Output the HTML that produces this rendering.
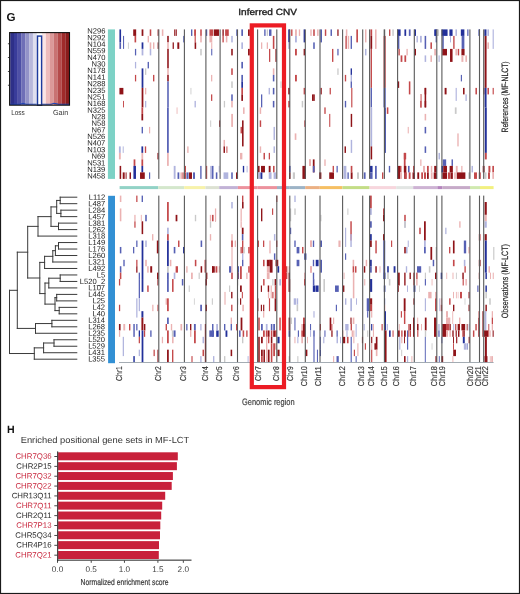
<!DOCTYPE html>
<html><head><meta charset="utf-8"><style>
html,body{margin:0;padding:0;background:#fff;}
body{width:520px;height:594px;overflow:hidden;position:relative;}
svg{position:absolute;left:0;top:0;will-change:transform;}
text{font-family:"Liberation Sans",sans-serif;text-rendering:geometricPrecision;}
</style></head><body>
<svg width="520" height="594" viewBox="0 0 520 594">
<rect x="0" y="0" width="520" height="594" fill="#fff"/>
<g><rect x="119.43" y="29.4" width="1.65" height="13" fill="#22309a"/><rect x="119.43" y="42.4" width="1.65" height="6.5" fill="#5660b4"/><rect x="123.03" y="35.9" width="1.05" height="13" fill="#5660b4"/><rect x="127.93" y="42.4" width="0.85" height="6.5" fill="#c9c9c9"/><rect x="133.22" y="29.4" width="2.95" height="6.5" fill="#8f1318"/><rect x="134.53" y="35.9" width="1.65" height="6.5" fill="#c4484a"/><rect x="134.93" y="48.9" width="1.25" height="6.5" fill="#5660b4"/><rect x="134.93" y="61.9" width="1.25" height="6.5" fill="#b0b4de"/><rect x="134.93" y="74.9" width="1.25" height="6.5" fill="#c4484a"/><rect x="141.62" y="29.4" width="1.75" height="6.5" fill="#8f1318"/><rect x="141.62" y="42.4" width="1.75" height="6.5" fill="#22309a"/><rect x="141.62" y="48.9" width="1.75" height="6.5" fill="#b0b4de"/><rect x="141.62" y="68.4" width="1.75" height="19.5" fill="#22309a"/><rect x="141.62" y="87.9" width="1.75" height="19.5" fill="#8f1318"/><rect x="145.03" y="68.4" width="1.25" height="6.5" fill="#c9c9c9"/><rect x="145.03" y="87.9" width="1.25" height="6.5" fill="#ebb2b2"/><rect x="145.03" y="100.9" width="1.25" height="6.5" fill="#b0b4de"/><rect x="147.62" y="35.9" width="1.35" height="6.5" fill="#ebb2b2"/><rect x="147.62" y="61.9" width="1.35" height="6.5" fill="#5660b4"/><rect x="149.72" y="29.4" width="1.55" height="6.5" fill="#c4484a"/><rect x="149.72" y="42.4" width="1.55" height="6.5" fill="#ebb2b2"/><rect x="149.72" y="48.9" width="1.55" height="6.5" fill="#b0b4de"/><rect x="153.02" y="42.4" width="1.35" height="6.5" fill="#ebb2b2"/><rect x="153.02" y="74.9" width="1.35" height="6.5" fill="#c4484a"/><rect x="157.62" y="29.4" width="0.95" height="6.5" fill="#8f1318"/><rect x="157.62" y="42.4" width="0.95" height="6.5" fill="#8f1318"/><rect x="161.83" y="29.4" width="1.55" height="6.5" fill="#ebb2b2"/><rect x="167.22" y="35.9" width="1.55" height="6.5" fill="#8f1318"/><rect x="167.22" y="42.4" width="1.55" height="6.5" fill="#ebb2b2"/><rect x="167.22" y="48.9" width="1.55" height="19.5" fill="#8f1318"/><rect x="167.22" y="68.4" width="1.55" height="6.5" fill="#ebb2b2"/><rect x="167.22" y="74.9" width="1.55" height="6.5" fill="#8f1318"/><rect x="167.22" y="81.4" width="1.55" height="26" fill="#5660b4"/><rect x="172.62" y="42.4" width="1.25" height="6.5" fill="#8f1318"/><rect x="174.22" y="29.4" width="0.95" height="6.5" fill="#8f1318"/><rect x="175.62" y="29.4" width="1.15" height="6.5" fill="#8f1318"/><rect x="177.33" y="42.4" width="1.95" height="6.5" fill="#8f1318"/><rect x="119.43" y="87.9" width="3.95" height="6.5" fill="#8f1318"/><rect x="123.03" y="100.9" width="0.95" height="6.5" fill="#c4484a"/><rect x="183.22" y="35.9" width="0.95" height="6.5" fill="#5660b4"/><rect x="191.02" y="29.4" width="1.35" height="6.5" fill="#5660b4"/><rect x="194.12" y="29.4" width="1.85" height="6.5" fill="#c4484a"/><rect x="194.62" y="35.9" width="1.15" height="6.5" fill="#c4484a"/><rect x="194.62" y="42.4" width="1.55" height="6.5" fill="#8f1318"/><rect x="200.22" y="29.4" width="1.55" height="6.5" fill="#c4484a"/><rect x="200.22" y="35.9" width="1.55" height="6.5" fill="#ebb2b2"/><rect x="200.22" y="48.9" width="1.55" height="6.5" fill="#c9c9c9"/><rect x="206.22" y="29.4" width="0.95" height="6.5" fill="#22309a"/><rect x="209.42" y="29.4" width="3.55" height="6.5" fill="#c4484a"/><rect x="209.43" y="35.9" width="2.85" height="6.5" fill="#ebb2b2"/><rect x="211.22" y="42.4" width="1.05" height="6.5" fill="#ebb2b2"/><rect x="211.22" y="48.9" width="1.05" height="6.5" fill="#5660b4"/><rect x="213.72" y="29.4" width="5.25" height="6.5" fill="#8f1318"/><rect x="222.43" y="29.4" width="1.35" height="6.5" fill="#8f1318"/><rect x="222.43" y="35.9" width="1.35" height="6.5" fill="#c4484a"/><rect x="225.12" y="29.4" width="3.65" height="6.5" fill="#c4484a"/><rect x="225.83" y="35.9" width="1.55" height="6.5" fill="#ebb2b2"/><rect x="231.22" y="35.9" width="1.55" height="6.5" fill="#b0b4de"/><rect x="231.22" y="48.9" width="1.55" height="6.5" fill="#8f1318"/><rect x="231.22" y="68.4" width="1.55" height="6.5" fill="#c4484a"/><rect x="231.22" y="81.4" width="1.55" height="6.5" fill="#c9c9c9"/><rect x="231.22" y="94.4" width="1.55" height="6.5" fill="#5660b4"/><rect x="231.22" y="100.9" width="1.55" height="6.5" fill="#ebb2b2"/><rect x="236.43" y="29.4" width="0.75" height="6.5" fill="#22309a"/><rect x="241.33" y="29.4" width="1.65" height="6.5" fill="#5660b4"/><rect x="241.33" y="42.4" width="1.65" height="6.5" fill="#b0b4de"/><rect x="241.33" y="61.9" width="1.65" height="6.5" fill="#5660b4"/><rect x="241.33" y="74.9" width="1.65" height="6.5" fill="#5660b4"/><rect x="241.33" y="81.4" width="1.65" height="6.5" fill="#22309a"/><rect x="241.33" y="87.9" width="1.65" height="6.5" fill="#c4484a"/><rect x="241.33" y="94.4" width="1.65" height="6.5" fill="#8f1318"/><rect x="211.03" y="74.9" width="1.25" height="6.5" fill="#ebb2b2"/><rect x="211.03" y="94.4" width="1.25" height="6.5" fill="#c4484a"/><rect x="190.52" y="87.9" width="0.85" height="6.5" fill="#c9c9c9"/><rect x="194.52" y="100.9" width="1.35" height="6.5" fill="#b0b4de"/><rect x="223.82" y="100.9" width="1.25" height="6.5" fill="#c9c9c9"/><rect x="248.03" y="29.4" width="1.75" height="6.5" fill="#8f1318"/><rect x="248.03" y="48.9" width="1.75" height="6.5" fill="#8f1318"/><rect x="264.22" y="29.4" width="1.35" height="6.5" fill="#5660b4"/><rect x="266.73" y="29.4" width="1.25" height="6.5" fill="#c9c9c9"/><rect x="269.02" y="29.4" width="2.45" height="6.5" fill="#5660b4"/><rect x="272.83" y="35.9" width="1.55" height="13" fill="#c4484a"/><rect x="261.02" y="42.4" width="1.25" height="6.5" fill="#ebb2b2"/><rect x="266.73" y="42.4" width="1.25" height="6.5" fill="#ebb2b2"/><rect x="269.02" y="48.9" width="1.25" height="13" fill="#c4484a"/><rect x="275.42" y="48.9" width="1.15" height="13" fill="#8f1318"/><rect x="272.83" y="68.4" width="1.55" height="6.5" fill="#ebb2b2"/><rect x="272.83" y="74.9" width="1.55" height="6.5" fill="#5660b4"/><rect x="272.83" y="87.9" width="1.55" height="6.5" fill="#5660b4"/><rect x="272.83" y="100.9" width="1.55" height="6.5" fill="#5660b4"/><rect x="268.62" y="87.9" width="1.35" height="6.5" fill="#b0b4de"/><rect x="261.02" y="94.4" width="1.25" height="13" fill="#5660b4"/><rect x="280.52" y="81.4" width="0.95" height="6.5" fill="#c9c9c9"/><rect x="288.23" y="29.4" width="1.75" height="13" fill="#22309a"/><rect x="288.23" y="42.4" width="1.75" height="6.5" fill="#b0b4de"/><rect x="288.23" y="87.9" width="1.75" height="6.5" fill="#8f1318"/><rect x="288.23" y="100.9" width="1.75" height="6.5" fill="#c4484a"/><rect x="291.12" y="29.4" width="1.35" height="6.5" fill="#c4484a"/><rect x="295.02" y="29.4" width="1.85" height="6.5" fill="#ebb2b2"/><rect x="295.02" y="35.9" width="1.85" height="6.5" fill="#b0b4de"/><rect x="295.02" y="48.9" width="1.85" height="6.5" fill="#c4484a"/><rect x="295.02" y="74.9" width="1.85" height="6.5" fill="#c4484a"/><rect x="298.82" y="29.4" width="1.35" height="6.5" fill="#ebb2b2"/><rect x="303.62" y="29.4" width="1.35" height="13" fill="#22309a"/><rect x="303.62" y="48.9" width="1.35" height="6.5" fill="#8f1318"/><rect x="303.62" y="87.9" width="1.35" height="6.5" fill="#c4484a"/><rect x="310.32" y="29.4" width="1.35" height="6.5" fill="#ebb2b2"/><rect x="313.22" y="29.4" width="1.55" height="6.5" fill="#c4484a"/><rect x="313.22" y="42.4" width="1.55" height="6.5" fill="#5660b4"/><rect x="313.22" y="94.4" width="1.55" height="6.5" fill="#8f1318"/><rect x="317.12" y="29.4" width="1.45" height="6.5" fill="#ebb2b2"/><rect x="320.52" y="29.4" width="1.25" height="13" fill="#22309a"/><rect x="320.52" y="87.9" width="1.25" height="6.5" fill="#8f1318"/><rect x="324.82" y="29.4" width="1.45" height="6.5" fill="#c4484a"/><rect x="330.52" y="29.4" width="1.45" height="6.5" fill="#5660b4"/><rect x="332.02" y="48.9" width="1.35" height="13" fill="#c4484a"/><rect x="337.33" y="29.4" width="1.25" height="6.5" fill="#8f1318"/><rect x="337.33" y="48.9" width="1.25" height="6.5" fill="#5660b4"/><rect x="337.33" y="68.4" width="1.25" height="6.5" fill="#c9c9c9"/><rect x="329.62" y="87.9" width="1.25" height="6.5" fill="#c4484a"/><rect x="312.02" y="94.4" width="1.35" height="6.5" fill="#8f1318"/><rect x="301.72" y="100.9" width="1.45" height="6.5" fill="#c9c9c9"/><rect x="345.83" y="29.4" width="1.55" height="6.5" fill="#ebb2b2"/><rect x="345.43" y="35.9" width="1.35" height="13" fill="#c4484a"/><rect x="347.72" y="35.9" width="1.45" height="13" fill="#ebb2b2"/><rect x="350.62" y="35.9" width="1.35" height="13" fill="#5660b4"/><rect x="350.62" y="68.4" width="1.35" height="6.5" fill="#22309a"/><rect x="350.62" y="74.9" width="1.35" height="6.5" fill="#b0b4de"/><rect x="350.62" y="81.4" width="1.35" height="6.5" fill="#5660b4"/><rect x="351.22" y="87.9" width="1.15" height="19.5" fill="#c4484a"/><rect x="356.32" y="29.4" width="1.65" height="13" fill="#c4484a"/><rect x="344.82" y="74.9" width="1.35" height="6.5" fill="#c4484a"/><rect x="344.82" y="100.9" width="1.35" height="6.5" fill="#5660b4"/><rect x="365.02" y="29.4" width="1.45" height="13" fill="#ebb2b2"/><rect x="365.02" y="48.9" width="1.45" height="6.5" fill="#b0b4de"/><rect x="370.42" y="29.4" width="1.75" height="6.5" fill="#c4484a"/><rect x="370.42" y="35.9" width="1.75" height="13" fill="#8f1318"/><rect x="370.62" y="48.9" width="1.35" height="39" fill="#c4484a"/><rect x="370.62" y="87.9" width="1.35" height="19.5" fill="#5660b4"/><rect x="375.02" y="29.4" width="1.55" height="19.5" fill="#ebb2b2"/><rect x="383.33" y="29.4" width="2.25" height="6.5" fill="#c9c9c9"/><rect x="383.62" y="35.9" width="1.95" height="52" fill="#8f1318"/><rect x="383.62" y="87.9" width="1.95" height="19.5" fill="#22309a"/><rect x="389.02" y="29.4" width="1.35" height="6.5" fill="#c4484a"/><rect x="392.32" y="29.4" width="1.45" height="6.5" fill="#c9c9c9"/><rect x="397.33" y="29.4" width="3.25" height="6.5" fill="#22309a"/><rect x="397.62" y="35.9" width="1.75" height="13" fill="#5660b4"/><rect x="398.43" y="48.9" width="1.35" height="6.5" fill="#c4484a"/><rect x="397.62" y="81.4" width="1.55" height="6.5" fill="#8f1318"/><rect x="400.62" y="55.4" width="1.75" height="6.5" fill="#c4484a"/><rect x="404.42" y="29.4" width="1.75" height="6.5" fill="#22309a"/><rect x="404.42" y="55.4" width="1.75" height="6.5" fill="#c4484a"/><rect x="406.43" y="48.9" width="1.35" height="6.5" fill="#ebb2b2"/><rect x="408.83" y="29.4" width="1.75" height="6.5" fill="#5660b4"/><rect x="408.83" y="81.4" width="1.55" height="13" fill="#c4484a"/><rect x="414.23" y="29.4" width="1.75" height="6.5" fill="#22309a"/><rect x="414.23" y="48.9" width="1.75" height="6.5" fill="#8f1318"/><rect x="416.52" y="35.9" width="1.35" height="6.5" fill="#b0b4de"/><rect x="420.42" y="35.9" width="1.25" height="6.5" fill="#b0b4de"/><rect x="420.42" y="94.4" width="1.25" height="13" fill="#8f1318"/><rect x="424.62" y="35.9" width="1.55" height="13" fill="#5660b4"/><rect x="424.62" y="55.4" width="1.55" height="6.5" fill="#b0b4de"/><rect x="424.62" y="87.9" width="1.55" height="19.5" fill="#8f1318"/><rect x="430.42" y="42.4" width="1.55" height="6.5" fill="#c4484a"/><rect x="430.42" y="55.4" width="1.55" height="6.5" fill="#ebb2b2"/><rect x="434.23" y="48.9" width="1.75" height="6.5" fill="#ebb2b2"/><rect x="435.23" y="29.4" width="2.75" height="6.5" fill="#5660b4"/><rect x="435.62" y="35.9" width="1.35" height="6.5" fill="#5660b4"/><rect x="420.02" y="35.9" width="1.35" height="6.5" fill="#b0b4de"/><rect x="420.02" y="94.4" width="1.75" height="13" fill="#ebb2b2"/><rect x="424.62" y="87.9" width="1.55" height="6.5" fill="#8f1318"/><rect x="434.22" y="29.4" width="2.15" height="6.5" fill="#22309a"/><rect x="436.82" y="29.4" width="2.15" height="6.5" fill="#c9c9c9"/><rect x="438.53" y="55.4" width="1.15" height="6.5" fill="#b0b4de"/><rect x="441.62" y="29.4" width="5.95" height="6.5" fill="#22309a"/><rect x="442.22" y="35.9" width="1.55" height="13" fill="#5660b4"/><rect x="442.23" y="48.9" width="4.75" height="6.5" fill="#8f1318"/><rect x="444.62" y="87.9" width="1.95" height="6.5" fill="#8f1318"/><rect x="449.42" y="29.4" width="3.15" height="6.5" fill="#22309a"/><rect x="450.02" y="35.9" width="0.95" height="6.5" fill="#b0b4de"/><rect x="450.02" y="48.9" width="2.55" height="13" fill="#8f1318"/><rect x="453.22" y="35.9" width="1.35" height="13" fill="#c4484a"/><rect x="455.42" y="29.4" width="1.55" height="6.5" fill="#b0b4de"/><rect x="455.42" y="48.9" width="1.55" height="6.5" fill="#ebb2b2"/><rect x="455.63" y="87.9" width="1.15" height="13" fill="#b0b4de"/><rect x="457.72" y="48.9" width="1.45" height="6.5" fill="#c4484a"/><rect x="460.83" y="29.4" width="3.55" height="6.5" fill="#22309a"/><rect x="461.62" y="35.9" width="2.75" height="13" fill="#5660b4"/><rect x="461.42" y="48.9" width="3.15" height="6.5" fill="#8f1318"/><rect x="461.42" y="55.4" width="1.95" height="6.5" fill="#ebb2b2"/><rect x="460.82" y="74.9" width="1.15" height="6.5" fill="#5660b4"/><rect x="463.02" y="87.9" width="1.55" height="6.5" fill="#8f1318"/><rect x="465.42" y="55.4" width="1.55" height="6.5" fill="#ebb2b2"/><rect x="465.43" y="94.4" width="1.35" height="6.5" fill="#b0b4de"/><rect x="467.23" y="29.4" width="1.25" height="6.5" fill="#5660b4"/><rect x="478.52" y="29.4" width="1.45" height="6.5" fill="#22309a"/><rect x="475.42" y="87.9" width="1.55" height="6.5" fill="#c4484a"/><rect x="483.42" y="87.9" width="0.95" height="6.5" fill="#8f1318"/><rect x="484.32" y="29.4" width="2.15" height="6.5" fill="#22309a"/><rect x="484.62" y="35.9" width="1.95" height="52" fill="#8f1318"/><rect x="484.62" y="87.9" width="1.95" height="19.5" fill="#22309a"/><rect x="487.42" y="29.4" width="1.55" height="6.5" fill="#b0b4de"/><rect x="487.42" y="42.4" width="1.55" height="6.5" fill="#ebb2b2"/><rect x="487.42" y="87.9" width="1.55" height="6.5" fill="#c4484a"/><rect x="492.63" y="29.4" width="1.15" height="19.5" fill="#b0b4de"/><rect x="492.63" y="87.9" width="1.15" height="6.5" fill="#c4484a"/><rect x="141.43" y="107.4" width="1.75" height="6.5" fill="#c4484a"/><rect x="141.43" y="113.9" width="1.75" height="6.5" fill="#8f1318"/><rect x="141.62" y="126.9" width="1.35" height="6.5" fill="#5660b4"/><rect x="141.43" y="146.4" width="1.75" height="6.5" fill="#22309a"/><rect x="141.43" y="152.9" width="1.75" height="6.5" fill="#ebb2b2"/><rect x="141.43" y="159.4" width="1.75" height="6.5" fill="#c4484a"/><rect x="141.43" y="165.9" width="1.75" height="6.5" fill="#22309a"/><rect x="140.03" y="172.4" width="4.75" height="6.5" fill="#8f1318"/><rect x="144.83" y="146.4" width="1.35" height="6.5" fill="#c4484a"/><rect x="149.03" y="126.9" width="1.15" height="6.5" fill="#ebb2b2"/><rect x="149.03" y="172.4" width="1.15" height="6.5" fill="#5660b4"/><rect x="167.03" y="107.4" width="1.75" height="45.5" fill="#5660b4"/><rect x="167.03" y="152.9" width="1.75" height="13" fill="#ebb2b2"/><rect x="176.62" y="107.4" width="0.85" height="6.5" fill="#ebb2b2"/><rect x="210.22" y="120.4" width="0.95" height="6.5" fill="#c9c9c9"/><rect x="118.92" y="146.4" width="1.85" height="6.5" fill="#b0b4de"/><rect x="118.92" y="152.9" width="1.85" height="6.5" fill="#ebb2b2"/><rect x="119.62" y="165.9" width="1.55" height="13" fill="#8f1318"/><rect x="122.73" y="146.4" width="0.95" height="6.5" fill="#b0b4de"/><rect x="122.73" y="172.4" width="1.95" height="6.5" fill="#8f1318"/><rect x="125.62" y="172.4" width="0.95" height="6.5" fill="#8f1318"/><rect x="129.53" y="172.4" width="1.45" height="6.5" fill="#8f1318"/><rect x="133.62" y="159.4" width="1.75" height="6.5" fill="#c4484a"/><rect x="133.42" y="165.9" width="2.55" height="13" fill="#22309a"/><rect x="157.43" y="152.9" width="1.15" height="6.5" fill="#8f1318"/><rect x="173.72" y="165.9" width="1.85" height="13" fill="#b0b4de"/><rect x="177.53" y="172.4" width="1.75" height="6.5" fill="#5660b4"/><rect x="180.42" y="172.4" width="1.55" height="6.5" fill="#ebb2b2"/><rect x="182.43" y="172.4" width="1.15" height="6.5" fill="#c4484a"/><rect x="184.62" y="165.9" width="1.35" height="6.5" fill="#c4484a"/><rect x="184.62" y="172.4" width="1.35" height="6.5" fill="#c4484a"/><rect x="186.43" y="172.4" width="2.15" height="6.5" fill="#5660b4"/><rect x="189.03" y="172.4" width="2.95" height="6.5" fill="#8f1318"/><rect x="193.03" y="172.4" width="1.95" height="6.5" fill="#5660b4"/><rect x="200.22" y="165.9" width="1.35" height="13" fill="#5660b4"/><rect x="206.03" y="165.9" width="1.15" height="13" fill="#c4484a"/><rect x="210.22" y="165.9" width="1.75" height="13" fill="#b0b4de"/><rect x="187.22" y="146.4" width="1.35" height="6.5" fill="#ebb2b2"/><rect x="219.22" y="120.4" width="0.95" height="6.5" fill="#8f1318"/><rect x="231.22" y="113.9" width="1.75" height="13" fill="#ebb2b2"/><rect x="223.53" y="139.9" width="1.45" height="6.5" fill="#ebb2b2"/><rect x="223.53" y="146.4" width="1.45" height="6.5" fill="#8f1318"/><rect x="226.43" y="146.4" width="0.95" height="6.5" fill="#c4484a"/><rect x="242.03" y="120.4" width="1.55" height="26" fill="#8f1318"/><rect x="240.53" y="126.9" width="1.45" height="6.5" fill="#c4484a"/><rect x="240.02" y="152.9" width="2.35" height="6.5" fill="#ebb2b2"/><rect x="242.83" y="165.9" width="1.35" height="6.5" fill="#22309a"/><rect x="246.62" y="165.9" width="0.95" height="6.5" fill="#b0b4de"/><rect x="243.03" y="107.4" width="1.55" height="6.5" fill="#ebb2b2"/><rect x="259.72" y="107.4" width="1.45" height="6.5" fill="#ebb2b2"/><rect x="259.72" y="120.4" width="1.45" height="6.5" fill="#c4484a"/><rect x="259.72" y="146.4" width="1.45" height="6.5" fill="#ebb2b2"/><rect x="263.52" y="152.9" width="1.45" height="6.5" fill="#c4484a"/><rect x="268.73" y="152.9" width="1.25" height="6.5" fill="#c4484a"/><rect x="273.52" y="126.9" width="1.45" height="13" fill="#b0b4de"/><rect x="273.52" y="146.4" width="1.45" height="6.5" fill="#b0b4de"/><rect x="257.83" y="165.9" width="1.75" height="6.5" fill="#8f1318"/><rect x="261.02" y="165.9" width="3.95" height="6.5" fill="#8f1318"/><rect x="260.42" y="172.4" width="1.95" height="6.5" fill="#22309a"/><rect x="258.23" y="172.4" width="1.75" height="6.5" fill="#b0b4de"/><rect x="268.72" y="165.9" width="1.85" height="6.5" fill="#8f1318"/><rect x="268.72" y="172.4" width="2.85" height="6.5" fill="#b0b4de"/><rect x="273.02" y="165.9" width="1.55" height="6.5" fill="#c4484a"/><rect x="273.62" y="172.4" width="2.35" height="6.5" fill="#b0b4de"/><rect x="289.02" y="172.4" width="1.45" height="6.5" fill="#8f1318"/><rect x="289.02" y="165.9" width="1.45" height="6.5" fill="#22309a"/><rect x="292.82" y="172.4" width="2.15" height="6.5" fill="#c9c9c9"/><rect x="294.72" y="133.4" width="1.65" height="6.5" fill="#ebb2b2"/><rect x="302.42" y="165.9" width="3.55" height="13" fill="#8f1318"/><rect x="304.32" y="120.4" width="0.95" height="6.5" fill="#c4484a"/><rect x="212.03" y="165.9" width="1.45" height="13" fill="#5660b4"/><rect x="215.83" y="172.4" width="1.55" height="6.5" fill="#5660b4"/><rect x="218.72" y="165.9" width="0.85" height="6.5" fill="#b0b4de"/><rect x="223.53" y="172.4" width="4.75" height="6.5" fill="#b0b4de"/><rect x="231.22" y="172.4" width="1.55" height="6.5" fill="#5660b4"/><rect x="236.03" y="172.4" width="1.55" height="6.5" fill="#8f1318"/><rect x="309.02" y="159.4" width="1.95" height="6.5" fill="#ebb2b2"/><rect x="324.32" y="107.4" width="1.35" height="6.5" fill="#c4484a"/><rect x="329.22" y="113.9" width="1.05" height="13" fill="#c4484a"/><rect x="350.72" y="113.9" width="1.45" height="13" fill="#8f1318"/><rect x="350.72" y="139.9" width="1.45" height="13" fill="#b0b4de"/><rect x="344.52" y="146.4" width="1.45" height="6.5" fill="#8f1318"/><rect x="370.62" y="107.4" width="1.55" height="39" fill="#b0b4de"/><rect x="370.62" y="146.4" width="1.55" height="13" fill="#8f1318"/><rect x="370.02" y="165.9" width="2.55" height="6.5" fill="#22309a"/><rect x="370.02" y="172.4" width="2.55" height="6.5" fill="#5660b4"/><rect x="384.02" y="107.4" width="1.75" height="45.5" fill="#22309a"/><rect x="386.83" y="107.4" width="1.55" height="6.5" fill="#c4484a"/><rect x="403.83" y="152.9" width="1.75" height="13" fill="#c4484a"/><rect x="309.02" y="159.4" width="1.75" height="6.5" fill="#ebb2b2"/><rect x="312.83" y="159.4" width="1.75" height="13" fill="#8f1318"/><rect x="312.83" y="165.9" width="1.75" height="6.5" fill="#5660b4"/><rect x="319.22" y="172.4" width="2.15" height="6.5" fill="#8f1318"/><rect x="324.32" y="159.4" width="1.35" height="6.5" fill="#ebb2b2"/><rect x="329.23" y="172.4" width="4.75" height="6.5" fill="#8f1318"/><rect x="332.62" y="165.9" width="1.35" height="6.5" fill="#c4484a"/><rect x="336.52" y="165.9" width="1.25" height="6.5" fill="#5660b4"/><rect x="343.62" y="165.9" width="2.75" height="13" fill="#b0b4de"/><rect x="347.43" y="172.4" width="1.35" height="6.5" fill="#5660b4"/><rect x="350.72" y="165.9" width="1.65" height="6.5" fill="#c4484a"/><rect x="350.72" y="172.4" width="1.85" height="6.5" fill="#8f1318"/><rect x="357.02" y="172.4" width="1.95" height="6.5" fill="#c9c9c9"/><rect x="363.83" y="172.4" width="1.75" height="6.5" fill="#5660b4"/><rect x="375.02" y="165.9" width="1.75" height="13" fill="#5660b4"/><rect x="382.02" y="172.4" width="1.35" height="6.5" fill="#c4484a"/><rect x="388.82" y="165.9" width="1.35" height="6.5" fill="#5660b4"/><rect x="397.42" y="165.9" width="2.75" height="13" fill="#8f1318"/><rect x="404.22" y="165.9" width="2.15" height="13" fill="#8f1318"/><rect x="420.23" y="100.9" width="1.25" height="6.5" fill="#c4484a"/><rect x="424.62" y="100.9" width="1.55" height="6.5" fill="#8f1318"/><rect x="424.62" y="113.9" width="1.55" height="6.5" fill="#ebb2b2"/><rect x="424.62" y="126.9" width="1.55" height="6.5" fill="#5660b4"/><rect x="424.62" y="146.4" width="1.55" height="6.5" fill="#5660b4"/><rect x="407.72" y="126.9" width="1.05" height="6.5" fill="#ebb2b2"/><rect x="454.83" y="107.4" width="1.75" height="6.5" fill="#c9c9c9"/><rect x="457.32" y="133.4" width="1.35" height="13" fill="#ebb2b2"/><rect x="484.82" y="107.4" width="1.95" height="45.5" fill="#22309a"/><rect x="484.82" y="152.9" width="1.95" height="6.5" fill="#c4484a"/><rect x="403.82" y="152.9" width="2.35" height="6.5" fill="#c4484a"/><rect x="438.52" y="152.9" width="1.45" height="6.5" fill="#b0b4de"/><rect x="442.72" y="159.4" width="3.45" height="6.5" fill="#5660b4"/><rect x="451.52" y="159.4" width="1.45" height="6.5" fill="#5660b4"/><rect x="420.23" y="159.4" width="1.25" height="6.5" fill="#ebb2b2"/><rect x="400.02" y="165.9" width="1.45" height="6.5" fill="#c4484a"/><rect x="403.82" y="165.9" width="1.95" height="6.5" fill="#8f1318"/><rect x="408.02" y="165.9" width="1.55" height="6.5" fill="#5660b4"/><rect x="413.02" y="165.9" width="1.35" height="6.5" fill="#c4484a"/><rect x="423.02" y="165.9" width="1.95" height="6.5" fill="#ebb2b2"/><rect x="427.02" y="165.9" width="1.75" height="6.5" fill="#c4484a"/><rect x="430.82" y="165.9" width="1.45" height="6.5" fill="#ebb2b2"/><rect x="434.22" y="165.9" width="2.65" height="6.5" fill="#8f1318"/><rect x="441.42" y="165.9" width="1.75" height="6.5" fill="#22309a"/><rect x="443.23" y="165.9" width="3.75" height="6.5" fill="#8f1318"/><rect x="449.62" y="165.9" width="3.25" height="6.5" fill="#8f1318"/><rect x="455.82" y="165.9" width="1.85" height="6.5" fill="#ebb2b2"/><rect x="461.23" y="165.9" width="1.25" height="6.5" fill="#ebb2b2"/><rect x="471.52" y="165.9" width="1.45" height="6.5" fill="#b0b4de"/><rect x="482.72" y="165.9" width="1.85" height="6.5" fill="#8f1318"/><rect x="488.42" y="165.9" width="1.95" height="6.5" fill="#c4484a"/><rect x="492.32" y="165.9" width="1.65" height="6.5" fill="#c4484a"/><rect x="400.02" y="172.4" width="1.95" height="6.5" fill="#ebb2b2"/><rect x="404.82" y="172.4" width="1.85" height="6.5" fill="#c4484a"/><rect x="408.72" y="172.4" width="1.85" height="6.5" fill="#c4484a"/><rect x="412.52" y="172.4" width="2.45" height="6.5" fill="#8f1318"/><rect x="417.32" y="172.4" width="1.85" height="6.5" fill="#8f1318"/><rect x="421.23" y="172.4" width="1.75" height="6.5" fill="#c4484a"/><rect x="424.02" y="172.4" width="1.95" height="6.5" fill="#c4484a"/><rect x="427.02" y="172.4" width="1.75" height="6.5" fill="#8f1318"/><rect x="430.83" y="172.4" width="1.75" height="6.5" fill="#ebb2b2"/><rect x="433.72" y="172.4" width="3.15" height="6.5" fill="#8f1318"/><rect x="442.33" y="172.4" width="4.75" height="6.5" fill="#8f1318"/><rect x="448.02" y="172.4" width="1.95" height="6.5" fill="#c4484a"/><rect x="450.42" y="172.4" width="2.45" height="6.5" fill="#8f1318"/><rect x="454.22" y="172.4" width="1.55" height="6.5" fill="#ebb2b2"/><rect x="456.72" y="172.4" width="8.65" height="6.5" fill="#8f1318"/><rect x="468.32" y="172.4" width="1.85" height="6.5" fill="#c9c9c9"/><rect x="474.02" y="172.4" width="2.95" height="6.5" fill="#c4484a"/><rect x="478.82" y="172.4" width="1.95" height="6.5" fill="#c4484a"/><rect x="484.62" y="172.4" width="1.85" height="6.5" fill="#c9c9c9"/><rect x="488.02" y="172.4" width="1.95" height="6.5" fill="#c4484a"/><rect x="492.32" y="172.4" width="1.65" height="6.5" fill="#ebb2b2"/><rect x="119.82" y="195.6" width="1.55" height="6.42" fill="#ebb2b2"/><rect x="119.82" y="208.44" width="1.55" height="12.84" fill="#ebb2b2"/><rect x="119.82" y="246.96" width="1.55" height="6.42" fill="#5660b4"/><rect x="119.82" y="266.22" width="1.55" height="6.42" fill="#5660b4"/><rect x="119.82" y="272.64" width="1.55" height="6.42" fill="#c4484a"/><rect x="123.33" y="259.8" width="1.35" height="6.42" fill="#5660b4"/><rect x="133.03" y="246.96" width="1.25" height="6.42" fill="#5660b4"/><rect x="134.32" y="221.28" width="1.25" height="6.42" fill="#c4484a"/><rect x="134.32" y="214.86" width="1.25" height="6.42" fill="#ebb2b2"/><rect x="136.22" y="195.6" width="1.25" height="6.42" fill="#c4484a"/><rect x="136.22" y="240.54" width="1.25" height="6.42" fill="#5660b4"/><rect x="136.22" y="259.8" width="1.25" height="6.42" fill="#c4484a"/><rect x="136.22" y="266.22" width="1.25" height="6.42" fill="#8f1318"/><rect x="138.72" y="272.64" width="1.25" height="6.42" fill="#5660b4"/><rect x="141.62" y="195.6" width="1.35" height="6.42" fill="#5660b4"/><rect x="141.62" y="221.28" width="1.55" height="12.84" fill="#8f1318"/><rect x="141.62" y="240.54" width="1.75" height="38.52" fill="#22309a"/><rect x="140.83" y="214.86" width="0.95" height="6.42" fill="#ebb2b2"/><rect x="145.22" y="214.86" width="1.55" height="6.42" fill="#5660b4"/><rect x="145.22" y="240.54" width="1.55" height="6.42" fill="#b0b4de"/><rect x="145.22" y="259.8" width="1.55" height="6.42" fill="#ebb2b2"/><rect x="147.22" y="266.22" width="1.45" height="6.42" fill="#ebb2b2"/><rect x="150.22" y="266.22" width="1.95" height="6.42" fill="#8f1318"/><rect x="152.02" y="234.12" width="1.35" height="6.42" fill="#ebb2b2"/><rect x="156.82" y="240.54" width="1.75" height="12.84" fill="#8f1318"/><rect x="157.03" y="272.64" width="1.55" height="6.42" fill="#8f1318"/><rect x="167.03" y="202.02" width="1.75" height="19.26" fill="#c4484a"/><rect x="167.03" y="227.7" width="1.75" height="6.42" fill="#b0b4de"/><rect x="167.03" y="234.12" width="1.75" height="6.42" fill="#c4484a"/><rect x="167.03" y="240.54" width="1.75" height="25.68" fill="#22309a"/><rect x="167.03" y="266.22" width="1.75" height="6.42" fill="#c9c9c9"/><rect x="167.03" y="272.64" width="1.75" height="6.42" fill="#5660b4"/><rect x="169.83" y="259.8" width="1.55" height="6.42" fill="#ebb2b2"/><rect x="173.72" y="246.96" width="1.65" height="6.42" fill="#5660b4"/><rect x="173.72" y="272.64" width="1.65" height="6.42" fill="#b0b4de"/><rect x="175.62" y="214.86" width="1.75" height="6.42" fill="#8f1318"/><rect x="175.62" y="266.22" width="2.35" height="6.42" fill="#c4484a"/><rect x="178.03" y="240.54" width="1.45" height="6.42" fill="#c4484a"/><rect x="183.03" y="246.96" width="1.25" height="6.42" fill="#22309a"/><rect x="186.22" y="266.22" width="1.35" height="6.42" fill="#ebb2b2"/><rect x="191.03" y="272.64" width="1.75" height="6.42" fill="#ebb2b2"/><rect x="194.83" y="214.86" width="1.35" height="6.42" fill="#c9c9c9"/><rect x="194.83" y="259.8" width="1.55" height="6.42" fill="#c4484a"/><rect x="198.62" y="272.64" width="1.15" height="6.42" fill="#c9c9c9"/><rect x="200.62" y="240.54" width="1.55" height="6.42" fill="#5660b4"/><rect x="200.62" y="266.22" width="1.55" height="6.42" fill="#8f1318"/><rect x="204.53" y="259.8" width="1.65" height="12.84" fill="#c4484a"/><rect x="206.02" y="272.64" width="1.35" height="6.42" fill="#8f1318"/><rect x="209.83" y="214.86" width="1.35" height="6.42" fill="#ebb2b2"/><rect x="212.03" y="214.86" width="1.55" height="6.42" fill="#c4484a"/><rect x="209.83" y="234.12" width="1.35" height="6.42" fill="#ebb2b2"/><rect x="209.83" y="221.28" width="1.35" height="6.42" fill="#c9c9c9"/><rect x="212.03" y="266.22" width="1.15" height="6.42" fill="#8f1318"/><rect x="215.03" y="214.86" width="0.95" height="6.42" fill="#8f1318"/><rect x="214.93" y="208.44" width="1.25" height="12.84" fill="#ebb2b2"/><rect x="231.22" y="202.02" width="1.55" height="6.42" fill="#b0b4de"/><rect x="231.43" y="234.12" width="1.15" height="38.52" fill="#ebb2b2"/><rect x="231.22" y="240.54" width="1.55" height="6.42" fill="#c4484a"/><rect x="234.72" y="240.54" width="1.25" height="6.42" fill="#ebb2b2"/><rect x="240.53" y="208.44" width="1.25" height="12.84" fill="#ebb2b2"/><rect x="240.53" y="221.28" width="1.25" height="6.42" fill="#ebb2b2"/><rect x="240.53" y="246.96" width="1.25" height="6.42" fill="#c4484a"/><rect x="242.02" y="195.6" width="1.35" height="6.42" fill="#c4484a"/><rect x="242.03" y="202.02" width="1.55" height="6.42" fill="#8f1318"/><rect x="241.82" y="227.7" width="1.75" height="6.42" fill="#8f1318"/><rect x="241.83" y="234.12" width="1.55" height="6.42" fill="#5660b4"/><rect x="242.02" y="240.54" width="1.35" height="12.84" fill="#c4484a"/><rect x="242.02" y="253.38" width="1.35" height="6.42" fill="#b0b4de"/><rect x="242.02" y="259.8" width="1.35" height="6.42" fill="#5660b4"/><rect x="243.62" y="246.96" width="1.15" height="6.42" fill="#c9c9c9"/><rect x="237.03" y="266.22" width="1.75" height="6.42" fill="#22309a"/><rect x="237.03" y="272.64" width="1.75" height="6.42" fill="#8f1318"/><rect x="212.03" y="266.22" width="2.75" height="6.42" fill="#8f1318"/><rect x="215.52" y="266.22" width="1.85" height="6.42" fill="#c4484a"/><rect x="218.72" y="266.22" width="1.25" height="6.42" fill="#ebb2b2"/><rect x="229.03" y="266.22" width="2.15" height="6.42" fill="#5660b4"/><rect x="231.22" y="272.64" width="1.55" height="6.42" fill="#c4484a"/><rect x="237.03" y="272.64" width="1.55" height="6.42" fill="#5660b4"/><rect x="240.03" y="266.22" width="1.75" height="12.84" fill="#c4484a"/><rect x="246.22" y="272.64" width="1.35" height="6.42" fill="#ebb2b2"/><rect x="248.22" y="246.96" width="1.45" height="6.42" fill="#c4484a"/><rect x="248.22" y="266.22" width="1.45" height="6.42" fill="#c4484a"/><rect x="261.02" y="208.44" width="1.35" height="12.84" fill="#8f1318"/><rect x="257.62" y="240.54" width="1.35" height="6.42" fill="#c4484a"/><rect x="263.02" y="240.54" width="1.25" height="6.42" fill="#c4484a"/><rect x="269.32" y="240.54" width="1.35" height="12.84" fill="#ebb2b2"/><rect x="269.32" y="259.8" width="1.35" height="6.42" fill="#c4484a"/><rect x="272.03" y="208.44" width="1.15" height="6.42" fill="#c4484a"/><rect x="263.02" y="259.8" width="1.55" height="6.42" fill="#c4484a"/><rect x="266.83" y="266.22" width="2.75" height="6.42" fill="#ebb2b2"/><rect x="266.82" y="259.8" width="2.85" height="6.42" fill="#8f1318"/><rect x="269.72" y="259.8" width="2.85" height="12.84" fill="#8f1318"/><rect x="266.83" y="272.64" width="2.75" height="6.42" fill="#ebb2b2"/><rect x="273.92" y="234.12" width="1.45" height="6.42" fill="#b0b4de"/><rect x="273.92" y="253.38" width="1.45" height="6.42" fill="#5660b4"/><rect x="275.52" y="259.8" width="2.75" height="6.42" fill="#8f1318"/><rect x="277.42" y="266.22" width="1.75" height="6.42" fill="#22309a"/><rect x="276.02" y="240.54" width="1.35" height="6.42" fill="#c4484a"/><rect x="276.22" y="195.6" width="1.15" height="6.42" fill="#c4484a"/><rect x="286.02" y="266.22" width="1.35" height="6.42" fill="#c4484a"/><rect x="286.02" y="272.64" width="1.35" height="6.42" fill="#c4484a"/><rect x="288.52" y="266.22" width="1.45" height="6.42" fill="#ebb2b2"/><rect x="288.52" y="272.64" width="1.45" height="6.42" fill="#8f1318"/><rect x="290.03" y="208.44" width="1.15" height="12.84" fill="#c9c9c9"/><rect x="290.03" y="227.7" width="1.15" height="6.42" fill="#5660b4"/><rect x="294.32" y="195.6" width="1.35" height="6.42" fill="#b0b4de"/><rect x="294.32" y="208.44" width="1.35" height="6.42" fill="#c9c9c9"/><rect x="294.32" y="240.54" width="1.35" height="6.42" fill="#5660b4"/><rect x="296.62" y="246.96" width="2.75" height="6.42" fill="#5660b4"/><rect x="296.62" y="259.8" width="2.75" height="6.42" fill="#5660b4"/><rect x="302.02" y="246.96" width="1.45" height="6.42" fill="#c4484a"/><rect x="304.33" y="253.38" width="2.05" height="6.42" fill="#22309a"/><rect x="304.02" y="272.64" width="1.35" height="6.42" fill="#ebb2b2"/><rect x="310.02" y="240.54" width="1.95" height="6.42" fill="#ebb2b2"/><rect x="310.02" y="266.22" width="1.95" height="6.42" fill="#ebb2b2"/><rect x="320.52" y="214.86" width="0.95" height="6.42" fill="#c9c9c9"/><rect x="320.43" y="240.54" width="1.35" height="6.42" fill="#22309a"/><rect x="320.43" y="259.8" width="1.35" height="12.84" fill="#22309a"/><rect x="310.32" y="240.54" width="1.45" height="6.42" fill="#ebb2b2"/><rect x="310.32" y="266.22" width="1.45" height="6.42" fill="#ebb2b2"/><rect x="312.82" y="240.54" width="1.35" height="6.42" fill="#5660b4"/><rect x="312.82" y="259.8" width="1.35" height="6.42" fill="#5660b4"/><rect x="312.82" y="272.64" width="1.35" height="6.42" fill="#5660b4"/><rect x="315.72" y="259.8" width="2.85" height="6.42" fill="#22309a"/><rect x="338.42" y="240.54" width="2.15" height="6.42" fill="#ebb2b2"/><rect x="343.62" y="272.64" width="0.95" height="6.42" fill="#ebb2b2"/><rect x="345.03" y="227.7" width="1.15" height="19.26" fill="#b0b4de"/><rect x="345.03" y="253.38" width="1.15" height="6.42" fill="#5660b4"/><rect x="347.42" y="208.44" width="0.95" height="6.42" fill="#c9c9c9"/><rect x="350.32" y="221.28" width="1.45" height="19.26" fill="#c4484a"/><rect x="350.32" y="234.12" width="1.45" height="12.84" fill="#b0b4de"/><rect x="352.62" y="259.8" width="1.55" height="6.42" fill="#ebb2b2"/><rect x="352.62" y="266.22" width="1.55" height="6.42" fill="#c4484a"/><rect x="355.02" y="266.22" width="1.45" height="6.42" fill="#c4484a"/><rect x="363.82" y="266.22" width="1.45" height="6.42" fill="#8f1318"/><rect x="365.72" y="259.8" width="1.45" height="6.42" fill="#ebb2b2"/><rect x="370.02" y="195.6" width="1.75" height="12.84" fill="#c4484a"/><rect x="370.02" y="208.44" width="1.75" height="6.42" fill="#b0b4de"/><rect x="370.02" y="221.28" width="1.75" height="6.42" fill="#5660b4"/><rect x="370.02" y="234.12" width="1.75" height="6.42" fill="#22309a"/><rect x="370.02" y="240.54" width="1.75" height="6.42" fill="#8f1318"/><rect x="370.02" y="259.8" width="1.75" height="6.42" fill="#22309a"/><rect x="370.02" y="266.22" width="1.75" height="6.42" fill="#5660b4"/><rect x="375.32" y="240.54" width="1.45" height="12.84" fill="#c4484a"/><rect x="375.32" y="266.22" width="1.45" height="6.42" fill="#8f1318"/><rect x="379.52" y="266.22" width="0.95" height="6.42" fill="#ebb2b2"/><rect x="383.02" y="208.44" width="1.95" height="6.42" fill="#c4484a"/><rect x="383.02" y="214.86" width="1.95" height="6.42" fill="#8f1318"/><rect x="383.02" y="234.12" width="1.95" height="6.42" fill="#8f1318"/><rect x="383.42" y="240.54" width="1.75" height="38.52" fill="#22309a"/><rect x="387.22" y="266.22" width="1.55" height="6.42" fill="#22309a"/><rect x="387.22" y="272.64" width="1.55" height="6.42" fill="#c9c9c9"/><rect x="391.03" y="240.54" width="1.15" height="6.42" fill="#c4484a"/><rect x="393.62" y="266.22" width="1.85" height="6.42" fill="#22309a"/><rect x="404.22" y="214.86" width="1.55" height="6.42" fill="#c4484a"/><rect x="404.22" y="221.28" width="1.55" height="6.42" fill="#b0b4de"/><rect x="404.22" y="246.96" width="1.55" height="6.42" fill="#8f1318"/><rect x="406.02" y="246.96" width="1.55" height="6.42" fill="#b0b4de"/><rect x="404.22" y="221.28" width="1.55" height="6.42" fill="#c9c9c9"/><rect x="407.72" y="240.54" width="1.05" height="6.42" fill="#b0b4de"/><rect x="419.22" y="227.7" width="1.55" height="6.42" fill="#c4484a"/><rect x="424.02" y="221.28" width="1.75" height="19.26" fill="#8f1318"/><rect x="424.02" y="240.54" width="1.75" height="6.42" fill="#b0b4de"/><rect x="424.02" y="246.96" width="1.75" height="6.42" fill="#5660b4"/><rect x="430.42" y="246.96" width="1.75" height="12.84" fill="#8f1318"/><rect x="432.72" y="259.8" width="1.45" height="6.42" fill="#5660b4"/><rect x="435.62" y="246.96" width="1.35" height="12.84" fill="#c9c9c9"/><rect x="445.23" y="227.7" width="1.25" height="6.42" fill="#b0b4de"/><rect x="449.02" y="246.96" width="1.35" height="6.42" fill="#c4484a"/><rect x="452.92" y="240.54" width="1.65" height="12.84" fill="#8f1318"/><rect x="452.92" y="259.8" width="1.65" height="6.42" fill="#c4484a"/><rect x="459.22" y="221.28" width="1.35" height="6.42" fill="#ebb2b2"/><rect x="463.82" y="240.54" width="2.35" height="12.84" fill="#5660b4"/><rect x="463.83" y="259.8" width="1.55" height="6.42" fill="#b0b4de"/><rect x="464.43" y="266.22" width="1.35" height="6.42" fill="#c4484a"/><rect x="468.33" y="246.96" width="1.25" height="6.42" fill="#ebb2b2"/><rect x="478.83" y="234.12" width="1.75" height="6.42" fill="#c4484a"/><rect x="478.83" y="259.8" width="1.75" height="6.42" fill="#8f1318"/><rect x="484.63" y="202.02" width="2.15" height="12.84" fill="#8f1318"/><rect x="484.63" y="214.86" width="2.15" height="6.42" fill="#ebb2b2"/><rect x="484.63" y="221.28" width="2.15" height="6.42" fill="#b0b4de"/><rect x="484.63" y="234.12" width="2.15" height="6.42" fill="#8f1318"/><rect x="484.82" y="240.54" width="1.95" height="32.1" fill="#22309a"/><rect x="488.52" y="266.22" width="1.45" height="6.42" fill="#ebb2b2"/><rect x="493.22" y="246.96" width="1.15" height="12.84" fill="#c9c9c9"/><rect x="417.03" y="266.22" width="4.15" height="6.42" fill="#5660b4"/><rect x="405.82" y="266.22" width="1.35" height="6.42" fill="#b0b4de"/><rect x="428.83" y="266.22" width="1.55" height="6.42" fill="#c9c9c9"/><rect x="118.93" y="279.06" width="1.25" height="6.42" fill="#c4484a"/><rect x="118.93" y="304.74" width="1.25" height="6.42" fill="#c4484a"/><rect x="118.93" y="324" width="1.65" height="6.42" fill="#8f1318"/><rect x="118.93" y="330.42" width="1.25" height="6.42" fill="#ebb2b2"/><rect x="122.72" y="336.84" width="1.25" height="19.26" fill="#b0b4de"/><rect x="123.33" y="324" width="1.85" height="6.42" fill="#ebb2b2"/><rect x="129.02" y="324" width="1.35" height="6.42" fill="#c4484a"/><rect x="133.33" y="324" width="1.45" height="12.84" fill="#5660b4"/><rect x="133.33" y="356.1" width="1.45" height="6.42" fill="#22309a"/><rect x="136.22" y="298.32" width="1.25" height="19.26" fill="#b0b4de"/><rect x="136.22" y="324" width="1.25" height="6.42" fill="#5660b4"/><rect x="138.72" y="279.06" width="1.25" height="19.26" fill="#5660b4"/><rect x="138.72" y="298.32" width="1.25" height="12.84" fill="#b0b4de"/><rect x="138.72" y="330.42" width="1.25" height="6.42" fill="#22309a"/><rect x="138.72" y="336.84" width="1.25" height="6.42" fill="#c4484a"/><rect x="138.72" y="349.68" width="1.25" height="6.42" fill="#b0b4de"/><rect x="141.62" y="279.06" width="1.75" height="12.84" fill="#22309a"/><rect x="141.43" y="311.16" width="1.95" height="6.42" fill="#22309a"/><rect x="141.43" y="317.58" width="1.95" height="12.84" fill="#8f1318"/><rect x="141.62" y="330.42" width="1.75" height="32.1" fill="#22309a"/><rect x="143.93" y="324" width="1.45" height="6.42" fill="#8f1318"/><rect x="143.93" y="330.42" width="1.25" height="6.42" fill="#c4484a"/><rect x="147.22" y="285.48" width="1.45" height="6.42" fill="#c4484a"/><rect x="150.22" y="330.42" width="1.35" height="6.42" fill="#5660b4"/><rect x="152.22" y="304.74" width="1.25" height="6.42" fill="#ebb2b2"/><rect x="153.53" y="349.68" width="1.25" height="6.42" fill="#c4484a"/><rect x="157.43" y="279.06" width="0.95" height="6.42" fill="#8f1318"/><rect x="157.43" y="304.74" width="0.95" height="6.42" fill="#c4484a"/><rect x="157.43" y="349.68" width="0.95" height="12.84" fill="#8f1318"/><rect x="161.82" y="336.84" width="1.25" height="6.42" fill="#ebb2b2"/><rect x="165.62" y="298.32" width="1.35" height="6.42" fill="#ebb2b2"/><rect x="165.62" y="324" width="1.35" height="6.42" fill="#c4484a"/><rect x="167.03" y="279.06" width="1.75" height="12.84" fill="#5660b4"/><rect x="167.03" y="298.32" width="1.75" height="12.84" fill="#c4484a"/><rect x="167.03" y="317.58" width="1.75" height="6.42" fill="#5660b4"/><rect x="167.03" y="330.42" width="1.75" height="12.84" fill="#c4484a"/><rect x="167.03" y="349.68" width="1.75" height="12.84" fill="#8f1318"/><rect x="170.83" y="324" width="1.35" height="6.42" fill="#ebb2b2"/><rect x="172.03" y="279.06" width="1.55" height="12.84" fill="#c4484a"/><rect x="171.83" y="330.42" width="1.55" height="6.42" fill="#c9c9c9"/><rect x="172.03" y="336.84" width="1.55" height="6.42" fill="#ebb2b2"/><rect x="172.02" y="349.68" width="1.35" height="12.84" fill="#c4484a"/><rect x="173.62" y="330.42" width="1.95" height="6.42" fill="#5660b4"/><rect x="180.43" y="324" width="1.75" height="6.42" fill="#ebb2b2"/><rect x="186.22" y="324" width="1.25" height="6.42" fill="#5660b4"/><rect x="190.02" y="324" width="1.35" height="6.42" fill="#8f1318"/><rect x="190.02" y="330.42" width="1.35" height="6.42" fill="#ebb2b2"/><rect x="191.43" y="356.1" width="1.15" height="6.42" fill="#c4484a"/><rect x="193.93" y="324" width="1.85" height="6.42" fill="#5660b4"/><rect x="194.03" y="330.42" width="1.75" height="12.84" fill="#c4484a"/><rect x="200.22" y="324" width="1.35" height="6.42" fill="#b0b4de"/><rect x="200.22" y="356.1" width="1.35" height="6.42" fill="#b0b4de"/><rect x="202.53" y="336.84" width="1.45" height="6.42" fill="#b0b4de"/><rect x="202.53" y="349.68" width="1.45" height="6.42" fill="#c4484a"/><rect x="204.83" y="324" width="1.15" height="38.52" fill="#8f1318"/><rect x="209.33" y="330.42" width="4.65" height="6.42" fill="#5660b4"/><rect x="213.02" y="356.1" width="1.35" height="6.42" fill="#b0b4de"/><rect x="212.03" y="324" width="1.45" height="12.84" fill="#5660b4"/><rect x="216.22" y="330.42" width="2.45" height="6.42" fill="#22309a"/><rect x="216.22" y="324" width="1.75" height="6.42" fill="#b0b4de"/><rect x="224.02" y="324" width="1.35" height="6.42" fill="#5660b4"/><rect x="224.02" y="356.1" width="1.35" height="6.42" fill="#c9c9c9"/><rect x="225.52" y="330.42" width="1.85" height="6.42" fill="#22309a"/><rect x="230.62" y="317.58" width="1.35" height="6.42" fill="#ebb2b2"/><rect x="230.62" y="324" width="1.35" height="6.42" fill="#5660b4"/><rect x="230.62" y="349.68" width="1.55" height="6.42" fill="#8f1318"/><rect x="236.02" y="324" width="1.35" height="6.42" fill="#c4484a"/><rect x="239.03" y="330.42" width="1.55" height="6.42" fill="#5660b4"/><rect x="240.62" y="317.58" width="1.75" height="12.84" fill="#8f1318"/><rect x="242.62" y="330.42" width="1.55" height="6.42" fill="#c4484a"/><rect x="242.02" y="336.84" width="1.35" height="6.42" fill="#c9c9c9"/><rect x="246.22" y="330.42" width="1.35" height="6.42" fill="#c4484a"/><rect x="247.62" y="356.1" width="0.95" height="6.42" fill="#b0b4de"/><rect x="258.22" y="317.58" width="1.55" height="12.84" fill="#c4484a"/><rect x="258.22" y="336.84" width="1.55" height="25.68" fill="#8f1318"/><rect x="261.02" y="324" width="1.75" height="6.42" fill="#5660b4"/><rect x="261.02" y="336.84" width="1.75" height="6.42" fill="#8f1318"/><rect x="261.02" y="349.68" width="1.75" height="6.42" fill="#8f1318"/><rect x="261.02" y="356.1" width="1.75" height="6.42" fill="#c4484a"/><rect x="263.02" y="330.42" width="1.75" height="6.42" fill="#c4484a"/><rect x="263.42" y="349.68" width="1.55" height="12.84" fill="#8f1318"/><rect x="265.83" y="324" width="1.75" height="6.42" fill="#b0b4de"/><rect x="265.83" y="330.42" width="1.75" height="6.42" fill="#c4484a"/><rect x="266.02" y="336.84" width="1.35" height="25.68" fill="#ebb2b2"/><rect x="267.83" y="330.42" width="1.75" height="6.42" fill="#8f1318"/><rect x="268.02" y="336.84" width="1.35" height="6.42" fill="#c4484a"/><rect x="267.83" y="349.68" width="1.75" height="12.84" fill="#8f1318"/><rect x="270.83" y="324" width="1.55" height="6.42" fill="#5660b4"/><rect x="270.83" y="330.42" width="1.55" height="6.42" fill="#c4484a"/><rect x="270.83" y="336.84" width="1.55" height="6.42" fill="#8f1318"/><rect x="270.83" y="343.26" width="1.55" height="19.26" fill="#c4484a"/><rect x="273.23" y="324" width="1.75" height="6.42" fill="#5660b4"/><rect x="273.23" y="330.42" width="1.75" height="6.42" fill="#8f1318"/><rect x="273.23" y="343.26" width="1.75" height="12.84" fill="#c4484a"/><rect x="275.02" y="330.42" width="1.75" height="6.42" fill="#c4484a"/><rect x="275.02" y="343.26" width="1.75" height="6.42" fill="#ebb2b2"/><rect x="277.42" y="336.84" width="2.15" height="6.42" fill="#22309a"/><rect x="277.42" y="349.68" width="2.15" height="6.42" fill="#8f1318"/><rect x="279.32" y="317.58" width="1.45" height="12.84" fill="#c4484a"/><rect x="296.62" y="298.32" width="1.55" height="6.42" fill="#b0b4de"/><rect x="296.62" y="304.74" width="1.55" height="6.42" fill="#c9c9c9"/><rect x="304.02" y="279.06" width="1.25" height="6.42" fill="#c4484a"/><rect x="312.83" y="279.06" width="1.55" height="6.42" fill="#5660b4"/><rect x="312.83" y="285.48" width="2.75" height="6.42" fill="#22309a"/><rect x="316.02" y="285.48" width="2.55" height="6.42" fill="#22309a"/><rect x="323.42" y="279.06" width="1.55" height="12.84" fill="#c9c9c9"/><rect x="335.02" y="285.48" width="3.75" height="6.42" fill="#5660b4"/><rect x="335.82" y="304.74" width="1.15" height="6.42" fill="#5660b4"/><rect x="342.83" y="285.48" width="1.55" height="6.42" fill="#8f1318"/><rect x="345.02" y="298.32" width="1.35" height="6.42" fill="#b0b4de"/><rect x="350.32" y="298.32" width="1.65" height="12.84" fill="#b0b4de"/><rect x="356.02" y="298.32" width="0.95" height="6.42" fill="#b0b4de"/><rect x="364.22" y="279.06" width="1.05" height="6.42" fill="#ebb2b2"/><rect x="366.72" y="298.32" width="2.45" height="12.84" fill="#5660b4"/><rect x="370.03" y="279.06" width="2.15" height="12.84" fill="#22309a"/><rect x="370.03" y="298.32" width="2.15" height="6.42" fill="#8f1318"/><rect x="370.03" y="304.74" width="2.15" height="6.42" fill="#c4484a"/><rect x="384.02" y="311.16" width="1.95" height="19.26" fill="#22309a"/><rect x="384.02" y="330.42" width="2.55" height="32.1" fill="#8f1318"/><rect x="388.83" y="279.06" width="1.55" height="6.42" fill="#c9c9c9"/><rect x="398.82" y="324" width="0.95" height="6.42" fill="#ebb2b2"/><rect x="398.02" y="330.42" width="1.75" height="6.42" fill="#8f1318"/><rect x="399.22" y="336.84" width="1.15" height="12.84" fill="#b0b4de"/><rect x="400.82" y="311.16" width="1.15" height="6.42" fill="#c4484a"/><rect x="401.22" y="330.42" width="1.35" height="6.42" fill="#c4484a"/><rect x="401.22" y="336.84" width="1.15" height="6.42" fill="#ebb2b2"/><rect x="401.22" y="349.68" width="0.95" height="6.42" fill="#c9c9c9"/><rect x="403.92" y="311.16" width="1.45" height="12.84" fill="#c4484a"/><rect x="404.02" y="330.42" width="1.75" height="6.42" fill="#8f1318"/><rect x="404.02" y="336.84" width="0.95" height="6.42" fill="#8f1318"/><rect x="404.02" y="356.1" width="1.55" height="6.42" fill="#8f1318"/><rect x="407.03" y="330.42" width="1.15" height="19.26" fill="#5660b4"/><rect x="407.03" y="356.1" width="1.15" height="6.42" fill="#b0b4de"/><rect x="408.32" y="324" width="1.15" height="12.84" fill="#c4484a"/><rect x="409.62" y="324" width="1.35" height="6.42" fill="#8f1318"/><rect x="410.02" y="330.42" width="0.95" height="6.42" fill="#c4484a"/><rect x="411.42" y="356.1" width="0.95" height="6.42" fill="#ebb2b2"/><rect x="413.02" y="317.58" width="1.25" height="19.26" fill="#8f1318"/><rect x="417.22" y="317.58" width="0.95" height="6.42" fill="#ebb2b2"/><rect x="417.02" y="324" width="1.55" height="6.42" fill="#8f1318"/><rect x="417.22" y="330.42" width="1.15" height="6.42" fill="#c4484a"/><rect x="421.02" y="324" width="0.95" height="6.42" fill="#ebb2b2"/><rect x="424.83" y="317.58" width="1.75" height="12.84" fill="#8f1318"/><rect x="424.82" y="330.42" width="1.35" height="6.42" fill="#c9c9c9"/><rect x="424.82" y="336.84" width="0.95" height="25.68" fill="#5660b4"/><rect x="431.62" y="343.26" width="0.85" height="6.42" fill="#c9c9c9"/><rect x="434.02" y="317.58" width="2.35" height="19.26" fill="#8f1318"/><rect x="435.43" y="356.1" width="1.35" height="6.42" fill="#8f1318"/><rect x="438.33" y="324" width="1.25" height="6.42" fill="#b0b4de"/><rect x="438.33" y="330.42" width="1.25" height="6.42" fill="#5660b4"/><rect x="438.82" y="356.1" width="0.95" height="6.42" fill="#5660b4"/><rect x="442.23" y="324" width="3.75" height="12.84" fill="#8f1318"/><rect x="441.42" y="336.84" width="0.95" height="6.42" fill="#5660b4"/><rect x="441.42" y="356.1" width="1.75" height="6.42" fill="#8f1318"/><rect x="446.02" y="311.16" width="1.95" height="6.42" fill="#ebb2b2"/><rect x="446.02" y="317.58" width="4.25" height="6.42" fill="#ebb2b2"/><rect x="446.02" y="324" width="2.95" height="6.42" fill="#c4484a"/><rect x="449.43" y="324" width="1.35" height="6.42" fill="#8f1318"/><rect x="446.02" y="330.42" width="1.95" height="6.42" fill="#ebb2b2"/><rect x="449.43" y="330.42" width="1.35" height="6.42" fill="#ebb2b2"/><rect x="452.32" y="311.16" width="0.85" height="12.84" fill="#ebb2b2"/><rect x="453.22" y="324" width="0.95" height="6.42" fill="#b0b4de"/><rect x="452.32" y="330.42" width="1.35" height="6.42" fill="#8f1318"/><rect x="453.02" y="336.84" width="0.95" height="6.42" fill="#8f1318"/><rect x="453.02" y="343.26" width="0.95" height="6.42" fill="#c4484a"/><rect x="453.23" y="349.68" width="2.75" height="6.42" fill="#8f1318"/><rect x="452.42" y="356.1" width="0.95" height="6.42" fill="#ebb2b2"/><rect x="455.12" y="324" width="1.25" height="6.42" fill="#c4484a"/><rect x="455.63" y="330.42" width="1.15" height="6.42" fill="#8f1318"/><rect x="456.13" y="336.84" width="1.15" height="6.42" fill="#8f1318"/><rect x="459.02" y="317.58" width="1.35" height="6.42" fill="#ebb2b2"/><rect x="457.62" y="324" width="2.35" height="6.42" fill="#8f1318"/><rect x="458.02" y="330.42" width="1.45" height="6.42" fill="#8f1318"/><rect x="461.42" y="324" width="3.75" height="6.42" fill="#8f1318"/><rect x="462.32" y="330.42" width="0.95" height="6.42" fill="#c4484a"/><rect x="463.32" y="330.42" width="1.45" height="6.42" fill="#8f1318"/><rect x="462.82" y="336.84" width="1.95" height="6.42" fill="#22309a"/><rect x="463.82" y="343.26" width="2.35" height="6.42" fill="#b0b4de"/><rect x="466.72" y="324" width="0.85" height="6.42" fill="#8f1318"/><rect x="466.72" y="343.26" width="0.85" height="6.42" fill="#5660b4"/><rect x="468.62" y="324" width="0.95" height="6.42" fill="#b0b4de"/><rect x="468.63" y="336.84" width="1.15" height="6.42" fill="#8f1318"/><rect x="472.92" y="330.42" width="1.45" height="6.42" fill="#c4484a"/><rect x="475.32" y="324" width="1.45" height="6.42" fill="#c4484a"/><rect x="478.32" y="317.58" width="1.35" height="19.26" fill="#8f1318"/><rect x="482.42" y="311.16" width="1.15" height="25.68" fill="#8f1318"/><rect x="484.52" y="311.16" width="1.85" height="19.26" fill="#b0b4de"/><rect x="484.02" y="330.42" width="4.25" height="6.42" fill="#8f1318"/><rect x="484.92" y="336.84" width="1.95" height="25.68" fill="#8f1318"/><rect x="484.52" y="356.1" width="2.95" height="6.42" fill="#8f1318"/><rect x="488.32" y="324" width="0.95" height="12.84" fill="#c4484a"/><rect x="489.82" y="330.42" width="0.85" height="6.42" fill="#ebb2b2"/><rect x="489.82" y="356.1" width="0.85" height="6.42" fill="#ebb2b2"/><rect x="491.73" y="311.16" width="1.25" height="6.42" fill="#ebb2b2"/><rect x="491.73" y="317.58" width="1.25" height="6.42" fill="#c4484a"/><rect x="491.73" y="324" width="1.25" height="6.42" fill="#ebb2b2"/><rect x="492.62" y="330.42" width="1.05" height="6.42" fill="#8f1318"/><rect x="491.23" y="356.1" width="1.75" height="6.42" fill="#ebb2b2"/><rect x="453.02" y="291.9" width="0.95" height="6.42" fill="#ebb2b2"/><rect x="455.93" y="291.9" width="0.85" height="6.42" fill="#ebb2b2"/><rect x="457.8" y="291.9" width="0.6" height="6.42" fill="#ebb2b2"/><rect x="449.12" y="298.32" width="1.45" height="6.42" fill="#c4484a"/><rect x="453.02" y="304.74" width="1.35" height="6.42" fill="#8f1318"/><rect x="446.32" y="272.64" width="0.85" height="6.42" fill="#ebb2b2"/><rect x="452.52" y="272.64" width="0.95" height="6.42" fill="#ebb2b2"/><rect x="455.93" y="272.64" width="0.85" height="6.42" fill="#c9c9c9"/><rect x="478.52" y="311.16" width="0.85" height="6.42" fill="#c4484a"/><rect x="342.32" y="330.42" width="1.15" height="6.42" fill="#ebb2b2"/><rect x="342.92" y="336.84" width="2.25" height="6.42" fill="#8f1318"/><rect x="345.22" y="324" width="3.35" height="6.42" fill="#b0b4de"/><rect x="346.42" y="330.42" width="1.15" height="6.42" fill="#b0b4de"/><rect x="346.92" y="336.84" width="1.65" height="6.42" fill="#c4484a"/><rect x="350.42" y="317.58" width="1.15" height="6.42" fill="#8f1318"/><rect x="350.62" y="324" width="1.35" height="6.42" fill="#c4484a"/><rect x="351.62" y="330.42" width="1.55" height="6.42" fill="#ebb2b2"/><rect x="350.63" y="336.84" width="1.15" height="25.68" fill="#5660b4"/><rect x="352.72" y="317.58" width="1.65" height="6.42" fill="#ebb2b2"/><rect x="353.33" y="330.42" width="1.05" height="12.84" fill="#ebb2b2"/><rect x="353.82" y="349.68" width="1.15" height="6.42" fill="#c4484a"/><rect x="355.62" y="324" width="1.05" height="12.84" fill="#b0b4de"/><rect x="355.62" y="356.1" width="1.05" height="6.42" fill="#5660b4"/><rect x="357.32" y="343.26" width="1.15" height="12.84" fill="#ebb2b2"/><rect x="361.92" y="336.84" width="1.15" height="6.42" fill="#8f1318"/><rect x="363.63" y="324" width="1.15" height="6.42" fill="#b0b4de"/><rect x="364.82" y="343.26" width="1.15" height="6.42" fill="#c4484a"/><rect x="367.13" y="311.16" width="1.15" height="6.42" fill="#5660b4"/><rect x="367.13" y="330.42" width="1.15" height="6.42" fill="#c9c9c9"/><rect x="371.13" y="311.16" width="1.15" height="6.42" fill="#ebb2b2"/><rect x="371.13" y="324" width="1.15" height="6.42" fill="#22309a"/><rect x="371.13" y="336.84" width="1.15" height="6.42" fill="#8f1318"/><rect x="371.13" y="343.26" width="1.15" height="6.42" fill="#ebb2b2"/><rect x="371.13" y="349.68" width="1.15" height="12.84" fill="#c4484a"/><rect x="372.92" y="324" width="1.05" height="12.84" fill="#ebb2b2"/><rect x="374.42" y="343.26" width="1.55" height="6.42" fill="#8f1318"/><rect x="375.82" y="336.84" width="1.65" height="12.84" fill="#8f1318"/><rect x="375.82" y="349.68" width="1.65" height="6.42" fill="#ebb2b2"/><rect x="381.53" y="324" width="1.15" height="6.42" fill="#c4484a"/><rect x="386.72" y="324" width="1.15" height="6.42" fill="#b0b4de"/><rect x="389.03" y="330.42" width="1.65" height="6.42" fill="#22309a"/><rect x="392.52" y="330.42" width="1.05" height="6.42" fill="#c4484a"/><rect x="288.62" y="317.58" width="1.55" height="12.84" fill="#8f1318"/><rect x="288.62" y="330.42" width="1.55" height="6.42" fill="#22309a"/><rect x="288.62" y="356.1" width="1.35" height="6.42" fill="#c9c9c9"/><rect x="290.92" y="317.58" width="1.05" height="6.42" fill="#c9c9c9"/><rect x="294.42" y="317.58" width="1.05" height="12.84" fill="#5660b4"/><rect x="294.42" y="336.84" width="1.05" height="6.42" fill="#ebb2b2"/><rect x="297.33" y="336.84" width="1.05" height="6.42" fill="#b0b4de"/><rect x="297.82" y="330.42" width="1.15" height="6.42" fill="#5660b4"/><rect x="297.33" y="356.1" width="1.05" height="6.42" fill="#c9c9c9"/><rect x="301.32" y="324" width="1.65" height="6.42" fill="#ebb2b2"/><rect x="301.32" y="330.42" width="1.65" height="6.42" fill="#c4484a"/><rect x="301.32" y="336.84" width="1.65" height="6.42" fill="#ebb2b2"/><rect x="303.02" y="317.58" width="1.95" height="6.42" fill="#c4484a"/><rect x="303.02" y="324" width="2.25" height="12.84" fill="#8f1318"/><rect x="305.33" y="349.68" width="2.05" height="6.42" fill="#8f1318"/><rect x="307.02" y="336.84" width="0.95" height="6.42" fill="#ebb2b2"/><rect x="310.02" y="324" width="1.05" height="6.42" fill="#5660b4"/><rect x="310.02" y="330.42" width="1.05" height="6.42" fill="#b0b4de"/><rect x="313.42" y="311.16" width="1.15" height="6.42" fill="#b0b4de"/><rect x="313.42" y="330.42" width="1.15" height="6.42" fill="#22309a"/><rect x="313.42" y="336.84" width="1.15" height="25.68" fill="#5660b4"/><rect x="316.92" y="349.68" width="1.05" height="12.84" fill="#5660b4"/><rect x="319.83" y="324" width="1.05" height="6.42" fill="#8f1318"/><rect x="319.83" y="336.84" width="1.05" height="12.84" fill="#5660b4"/><rect x="319.83" y="349.68" width="1.05" height="6.42" fill="#22309a"/><rect x="323.22" y="336.84" width="1.15" height="6.42" fill="#b0b4de"/><rect x="324.42" y="330.42" width="1.05" height="6.42" fill="#5660b4"/><rect x="329.63" y="317.58" width="1.65" height="12.84" fill="#8f1318"/><rect x="331.33" y="324" width="1.05" height="6.42" fill="#c4484a"/><rect x="331.33" y="330.42" width="1.25" height="6.42" fill="#8f1318"/><rect x="333.03" y="317.58" width="1.15" height="6.42" fill="#ebb2b2"/><rect x="333.03" y="356.1" width="1.15" height="6.42" fill="#ebb2b2"/><rect x="336.52" y="330.42" width="1.25" height="6.42" fill="#5660b4"/><rect x="336.52" y="336.84" width="1.45" height="6.42" fill="#b0b4de"/><rect x="336.52" y="356.1" width="2.25" height="6.42" fill="#5660b4"/><rect x="340.02" y="336.84" width="0.95" height="6.42" fill="#b0b4de"/><rect x="181.83" y="279.06" width="1.45" height="6.42" fill="#5660b4"/><rect x="188.72" y="285.48" width="1.05" height="6.42" fill="#c9c9c9"/><rect x="193.93" y="298.32" width="0.75" height="6.42" fill="#c9c9c9"/><rect x="200.22" y="304.74" width="1.75" height="6.42" fill="#5660b4"/><rect x="205.42" y="279.06" width="1.55" height="6.42" fill="#8f1318"/><rect x="205.42" y="304.74" width="1.55" height="6.42" fill="#8f1318"/><rect x="211.83" y="298.32" width="1.05" height="6.42" fill="#c9c9c9"/><rect x="224.43" y="291.9" width="1.15" height="12.84" fill="#ebb2b2"/><rect x="229.03" y="285.48" width="1.15" height="6.42" fill="#c9c9c9"/><rect x="231.12" y="291.9" width="1.35" height="6.42" fill="#8f1318"/><rect x="231.12" y="304.74" width="1.35" height="6.42" fill="#c4484a"/><rect x="237.22" y="279.06" width="1.05" height="6.42" fill="#c9c9c9"/><rect x="237.22" y="298.32" width="1.05" height="6.42" fill="#c9c9c9"/><rect x="240.03" y="285.48" width="1.75" height="6.42" fill="#8f1318"/><rect x="241.83" y="291.9" width="1.05" height="6.42" fill="#c4484a"/><rect x="240.03" y="298.32" width="1.15" height="6.42" fill="#8f1318"/><rect x="242.33" y="304.74" width="1.55" height="6.42" fill="#ebb2b2"/><rect x="257.42" y="298.32" width="0.95" height="12.84" fill="#8f1318"/><rect x="260.82" y="285.48" width="1.15" height="6.42" fill="#8f1318"/><rect x="260.82" y="304.74" width="1.15" height="6.42" fill="#8f1318"/><rect x="263.12" y="279.06" width="1.45" height="6.42" fill="#c4484a"/><rect x="263.13" y="304.74" width="1.15" height="6.42" fill="#8f1318"/><rect x="263.13" y="311.16" width="1.15" height="6.42" fill="#ebb2b2"/><rect x="267.72" y="285.48" width="1.45" height="6.42" fill="#8f1318"/><rect x="267.92" y="291.9" width="1.25" height="6.42" fill="#ebb2b2"/><rect x="268.92" y="298.32" width="1.15" height="12.84" fill="#c4484a"/><rect x="270.63" y="285.48" width="1.15" height="12.84" fill="#ebb2b2"/><rect x="272.32" y="279.06" width="1.15" height="6.42" fill="#c9c9c9"/><rect x="272.32" y="291.9" width="1.15" height="6.42" fill="#c4484a"/><rect x="274.62" y="279.06" width="1.45" height="6.42" fill="#8f1318"/><rect x="274.82" y="285.48" width="1.15" height="12.84" fill="#c4484a"/><rect x="274.62" y="298.32" width="1.45" height="12.84" fill="#8f1318"/><rect x="279.32" y="279.06" width="1.65" height="6.42" fill="#b0b4de"/><rect x="288.53" y="279.06" width="1.65" height="12.84" fill="#8f1318"/><rect x="293.73" y="298.32" width="2.25" height="6.42" fill="#b0b4de"/><rect x="383.83" y="272.64" width="1.55" height="6.42" fill="#22309a"/><rect x="383.83" y="285.48" width="1.55" height="6.42" fill="#22309a"/><rect x="384.03" y="298.32" width="1.15" height="6.42" fill="#5660b4"/><rect x="384.02" y="304.74" width="1.35" height="6.42" fill="#ebb2b2"/><rect x="352.83" y="272.64" width="1.55" height="25.68" fill="#ebb2b2"/><rect x="398.02" y="272.64" width="1.75" height="12.84" fill="#8f1318"/><rect x="397.63" y="285.48" width="1.15" height="6.42" fill="#8f1318"/><rect x="404.22" y="272.64" width="1.35" height="12.84" fill="#8f1318"/><rect x="409.52" y="272.64" width="1.35" height="6.42" fill="#8f1318"/><rect x="407.02" y="285.48" width="0.95" height="6.42" fill="#b0b4de"/><rect x="413.42" y="272.64" width="1.15" height="12.84" fill="#8f1318"/><rect x="413.62" y="285.48" width="1.75" height="6.42" fill="#22309a"/><rect x="413.42" y="298.32" width="1.15" height="6.42" fill="#8f1318"/><rect x="416.22" y="272.64" width="1.35" height="6.42" fill="#c4484a"/><rect x="416.22" y="279.06" width="1.35" height="6.42" fill="#ebb2b2"/><rect x="419.02" y="285.48" width="0.75" height="6.42" fill="#c9c9c9"/><rect x="424.82" y="272.64" width="1.15" height="6.42" fill="#c9c9c9"/><rect x="424.82" y="279.06" width="1.15" height="6.42" fill="#5660b4"/><rect x="424.82" y="298.32" width="1.15" height="12.84" fill="#b0b4de"/><rect x="428.22" y="291.9" width="3.35" height="6.42" fill="#ebb2b2"/><rect x="431.62" y="279.06" width="0.85" height="6.42" fill="#ebb2b2"/><rect x="435.02" y="272.64" width="1.55" height="6.42" fill="#8f1318"/><rect x="435.02" y="291.9" width="1.55" height="6.42" fill="#ebb2b2"/><rect x="435.02" y="298.32" width="1.55" height="12.84" fill="#c4484a"/><rect x="439.32" y="298.32" width="0.85" height="12.84" fill="#b0b4de"/><rect x="440.72" y="272.64" width="1.45" height="6.42" fill="#22309a"/><rect x="440.72" y="298.32" width="1.45" height="6.42" fill="#ebb2b2"/><rect x="440.72" y="304.74" width="1.45" height="6.42" fill="#c4484a"/><rect x="403.72" y="298.32" width="1.85" height="12.84" fill="#8f1318"/><rect x="462.32" y="272.64" width="1.45" height="6.42" fill="#8f1318"/><rect x="462.63" y="279.06" width="1.15" height="6.42" fill="#c4484a"/><rect x="465.42" y="279.06" width="1.45" height="6.42" fill="#ebb2b2"/><rect x="460.02" y="291.9" width="1.95" height="6.42" fill="#c4484a"/><rect x="464.62" y="298.32" width="0.75" height="6.42" fill="#c9c9c9"/><rect x="468.52" y="291.9" width="1.05" height="6.42" fill="#8f1318"/><rect x="468.52" y="304.74" width="1.05" height="6.42" fill="#8f1318"/><rect x="477.32" y="285.48" width="1.15" height="6.42" fill="#5660b4"/><rect x="478.82" y="272.64" width="1.15" height="6.42" fill="#8f1318"/><rect x="485.42" y="272.64" width="1.45" height="6.42" fill="#22309a"/><rect x="485.42" y="285.48" width="1.45" height="6.42" fill="#22309a"/><rect x="485.42" y="291.9" width="1.45" height="6.42" fill="#c9c9c9"/><rect x="485.42" y="304.74" width="1.45" height="6.42" fill="#8f1318"/><rect x="489.22" y="298.32" width="1.55" height="6.42" fill="#c9c9c9"/><rect x="492.72" y="272.64" width="1.05" height="6.42" fill="#ebb2b2"/><rect x="490.02" y="272.64" width="0.95" height="6.42" fill="#ebb2b2"/></g>
<g><rect x="158.25" y="29.4" width="1.1" height="149.5" fill="#5a5a5a"/><rect x="158.25" y="195.6" width="1.1" height="166.92" fill="#5a5a5a"/><rect x="183.85" y="29.4" width="1.1" height="149.5" fill="#5a5a5a"/><rect x="183.85" y="195.6" width="1.1" height="166.92" fill="#5a5a5a"/><rect x="205.35" y="29.4" width="1.1" height="149.5" fill="#5a5a5a"/><rect x="205.35" y="195.6" width="1.1" height="166.92" fill="#5a5a5a"/><rect x="219.55" y="29.4" width="1.1" height="149.5" fill="#5a5a5a"/><rect x="219.55" y="195.6" width="1.1" height="166.92" fill="#5a5a5a"/><rect x="236.95" y="29.4" width="1.1" height="149.5" fill="#5a5a5a"/><rect x="236.95" y="195.6" width="1.1" height="166.92" fill="#5a5a5a"/><rect x="257.05" y="29.4" width="1.1" height="149.5" fill="#5a5a5a"/><rect x="257.05" y="195.6" width="1.1" height="166.92" fill="#5a5a5a"/><rect x="276.25" y="29.4" width="1.1" height="149.5" fill="#5a5a5a"/><rect x="276.25" y="195.6" width="1.1" height="166.92" fill="#5a5a5a"/><rect x="289.25" y="29.4" width="1.1" height="149.5" fill="#5a5a5a"/><rect x="289.25" y="195.6" width="1.1" height="166.92" fill="#5a5a5a"/><rect x="304.75" y="29.4" width="1.1" height="149.5" fill="#5a5a5a"/><rect x="304.75" y="195.6" width="1.1" height="166.92" fill="#5a5a5a"/><rect x="319.45" y="29.4" width="1.1" height="149.5" fill="#5a5a5a"/><rect x="319.45" y="195.6" width="1.1" height="166.92" fill="#5a5a5a"/><rect x="342.05" y="29.4" width="1.1" height="149.5" fill="#5a5a5a"/><rect x="342.05" y="195.6" width="1.1" height="166.92" fill="#5a5a5a"/><rect x="362.15" y="29.4" width="1.1" height="149.5" fill="#5a5a5a"/><rect x="362.15" y="195.6" width="1.1" height="166.92" fill="#5a5a5a"/><rect x="369.05" y="29.4" width="1.1" height="149.5" fill="#5a5a5a"/><rect x="369.05" y="195.6" width="1.1" height="166.92" fill="#5a5a5a"/><rect x="383.85" y="29.4" width="1.1" height="149.5" fill="#5a5a5a"/><rect x="383.85" y="195.6" width="1.1" height="166.92" fill="#5a5a5a"/><rect x="397.05" y="29.4" width="1.1" height="149.5" fill="#5a5a5a"/><rect x="397.05" y="195.6" width="1.1" height="166.92" fill="#5a5a5a"/><rect x="413.75" y="29.4" width="1.1" height="149.5" fill="#5a5a5a"/><rect x="413.75" y="195.6" width="1.1" height="166.92" fill="#5a5a5a"/><rect x="436.25" y="29.4" width="1.1" height="149.5" fill="#5a5a5a"/><rect x="436.25" y="195.6" width="1.1" height="166.92" fill="#5a5a5a"/><rect x="441.35" y="29.4" width="1.1" height="149.5" fill="#5a5a5a"/><rect x="441.35" y="195.6" width="1.1" height="166.92" fill="#5a5a5a"/><rect x="469.35" y="29.4" width="1.1" height="149.5" fill="#5a5a5a"/><rect x="469.35" y="195.6" width="1.1" height="166.92" fill="#5a5a5a"/><rect x="478.95" y="29.4" width="1.1" height="149.5" fill="#5a5a5a"/><rect x="478.95" y="195.6" width="1.1" height="166.92" fill="#5a5a5a"/><rect x="483.15" y="29.4" width="1.1" height="149.5" fill="#5a5a5a"/><rect x="483.15" y="195.6" width="1.1" height="166.92" fill="#5a5a5a"/></g>
<g opacity="0.85"><rect x="119.6" y="186.1" width="38.6" height="3" fill="#7fcbbd"/><rect x="158.2" y="186.1" width="26" height="3" fill="#cde3c4"/><rect x="184.2" y="186.1" width="21.2" height="3" fill="#f6f09c"/><rect x="205.4" y="186.1" width="13.8" height="3" fill="#d6dccb"/><rect x="219.2" y="186.1" width="18.7" height="3" fill="#b7a5cf"/><rect x="237.9" y="186.1" width="19.7" height="3" fill="#e9808c"/><rect x="257.6" y="186.1" width="19.4" height="3" fill="#e9808c"/><rect x="277" y="186.1" width="12.8" height="3" fill="#8ba6bd"/><rect x="289.8" y="186.1" width="15.4" height="3" fill="#8ba6bd"/><rect x="305.2" y="186.1" width="14.6" height="3" fill="#e8a36e"/><rect x="319.8" y="186.1" width="22.6" height="3" fill="#f4b448"/><rect x="342.4" y="186.1" width="27.2" height="3" fill="#b9d872"/><rect x="369.6" y="186.1" width="26.6" height="3" fill="#f6cfd8"/><rect x="396.2" y="186.1" width="17" height="3" fill="#dde1df"/><rect x="413.2" y="186.1" width="24.2" height="3" fill="#c5a6cc"/><rect x="437.4" y="186.1" width="4.8" height="3" fill="#a770b2"/><rect x="442.2" y="186.1" width="27.8" height="3" fill="#bd9cbf"/><rect x="470" y="186.1" width="10" height="3" fill="#c8e6a2"/><rect x="480" y="186.1" width="13.6" height="3" fill="#f0ee6a"/></g>
<rect x="119" y="362.1" width="374.6" height="0.9" fill="#9aa3ab"/>
<rect x="107.9" y="29.4" width="7.1" height="149.5" fill="#7dd2c6"/>
<rect x="108.1" y="195.8" width="6.9" height="167.4" fill="#3290d4"/>
<rect x="251.8" y="25.4" width="32.2" height="361.7" fill="none" stroke="#ec1c24" stroke-width="4.2"/>
<g stroke="#3a3a3a" stroke-width="1" fill="none" stroke-linecap="square"><line x1="60.2" y1="197.2" x2="60.2" y2="203.68"/><line x1="60.2" y1="197.2" x2="76.8" y2="197.2"/><line x1="60.2" y1="203.68" x2="76.8" y2="203.68"/><line x1="60.9" y1="210.16" x2="60.9" y2="216.64"/><line x1="60.9" y1="210.16" x2="76.8" y2="210.16"/><line x1="60.9" y1="216.64" x2="76.8" y2="216.64"/><line x1="56.7" y1="200.44" x2="56.7" y2="213.4"/><line x1="56.7" y1="200.44" x2="60.2" y2="200.44"/><line x1="56.7" y1="213.4" x2="60.9" y2="213.4"/><line x1="58.5" y1="223.12" x2="58.5" y2="229.6"/><line x1="58.5" y1="223.12" x2="76.8" y2="223.12"/><line x1="58.5" y1="229.6" x2="76.8" y2="229.6"/><line x1="51" y1="206.92" x2="51" y2="226.36"/><line x1="51" y1="206.92" x2="56.7" y2="206.92"/><line x1="51" y1="226.36" x2="58.5" y2="226.36"/><line x1="38" y1="216.64" x2="38" y2="236.08"/><line x1="38" y1="216.64" x2="51" y2="216.64"/><line x1="38" y1="236.08" x2="76.8" y2="236.08"/><line x1="58.5" y1="242.56" x2="58.5" y2="249.04"/><line x1="58.5" y1="242.56" x2="76.8" y2="242.56"/><line x1="58.5" y1="249.04" x2="76.8" y2="249.04"/><line x1="55.4" y1="245.8" x2="55.4" y2="255.52"/><line x1="55.4" y1="245.8" x2="58.5" y2="245.8"/><line x1="55.4" y1="255.52" x2="76.8" y2="255.52"/><line x1="52.8" y1="250.66" x2="52.8" y2="262"/><line x1="52.8" y1="250.66" x2="55.4" y2="250.66"/><line x1="52.8" y1="262" x2="76.8" y2="262"/><line x1="44.6" y1="256.33" x2="44.6" y2="268.48"/><line x1="44.6" y1="256.33" x2="52.8" y2="256.33"/><line x1="44.6" y1="268.48" x2="76.8" y2="268.48"/><line x1="60.2" y1="274.96" x2="60.2" y2="281.44"/><line x1="60.2" y1="274.96" x2="76.8" y2="274.96"/><line x1="60.2" y1="281.44" x2="76.8" y2="281.44"/><line x1="48.8" y1="278.2" x2="48.8" y2="287.92"/><line x1="48.8" y1="278.2" x2="60.2" y2="278.2"/><line x1="48.8" y1="287.92" x2="76.8" y2="287.92"/><line x1="56.7" y1="294.4" x2="56.7" y2="300.88"/><line x1="56.7" y1="294.4" x2="76.8" y2="294.4"/><line x1="56.7" y1="300.88" x2="76.8" y2="300.88"/><line x1="59.2" y1="307.36" x2="59.2" y2="313.84"/><line x1="59.2" y1="307.36" x2="76.8" y2="307.36"/><line x1="59.2" y1="313.84" x2="76.8" y2="313.84"/><line x1="55" y1="297.64" x2="55" y2="310.6"/><line x1="55" y1="297.64" x2="56.7" y2="297.64"/><line x1="55" y1="310.6" x2="59.2" y2="310.6"/><line x1="45" y1="283.06" x2="45" y2="304.12"/><line x1="45" y1="283.06" x2="48.8" y2="283.06"/><line x1="45" y1="304.12" x2="55" y2="304.12"/><line x1="39.8" y1="262.4" x2="39.8" y2="293.59"/><line x1="39.8" y1="262.4" x2="44.6" y2="262.4"/><line x1="39.8" y1="293.59" x2="45" y2="293.59"/><line x1="27.7" y1="226.36" x2="27.7" y2="278"/><line x1="27.7" y1="226.36" x2="38" y2="226.36"/><line x1="27.7" y1="278" x2="39.8" y2="278"/><line x1="51.9" y1="320.32" x2="51.9" y2="326.8"/><line x1="51.9" y1="320.32" x2="76.8" y2="320.32"/><line x1="51.9" y1="326.8" x2="76.8" y2="326.8"/><line x1="35.5" y1="323.56" x2="35.5" y2="333.28"/><line x1="35.5" y1="323.56" x2="51.9" y2="323.56"/><line x1="35.5" y1="333.28" x2="76.8" y2="333.28"/><line x1="17.3" y1="252.18" x2="17.3" y2="328.42"/><line x1="17.3" y1="252.18" x2="27.7" y2="252.18"/><line x1="17.3" y1="328.42" x2="35.5" y2="328.42"/><line x1="54" y1="339.76" x2="54" y2="346.24"/><line x1="54" y1="339.76" x2="76.8" y2="339.76"/><line x1="54" y1="346.24" x2="76.8" y2="346.24"/><line x1="43.6" y1="343" x2="43.6" y2="352.72"/><line x1="43.6" y1="343" x2="54" y2="343"/><line x1="43.6" y1="352.72" x2="76.8" y2="352.72"/><line x1="34.3" y1="347.86" x2="34.3" y2="359.2"/><line x1="34.3" y1="347.86" x2="43.6" y2="347.86"/><line x1="34.3" y1="359.2" x2="76.8" y2="359.2"/><line x1="9.5" y1="290.3" x2="9.5" y2="353.53"/><line x1="9.5" y1="290.3" x2="17.3" y2="290.3"/><line x1="9.5" y1="353.53" x2="34.3" y2="353.53"/></g>
<rect x="10.2" y="32.6" width="3.84" height="72.4" fill="#2e3088"/><rect x="13.99" y="32.6" width="3.84" height="72.4" fill="#393c9a"/><rect x="17.77" y="32.6" width="3.84" height="72.4" fill="#4e50a6"/><rect x="21.56" y="32.6" width="3.84" height="72.4" fill="#6f6fb7"/><rect x="25.34" y="32.6" width="3.84" height="72.4" fill="#9393c8"/><rect x="29.13" y="32.6" width="3.84" height="72.4" fill="#b8b8db"/><rect x="32.91" y="32.6" width="3.84" height="72.4" fill="#dfdfef"/><rect x="42" y="32.6" width="3.94" height="72.4" fill="#fbe5e5"/><rect x="45.89" y="32.6" width="3.94" height="72.4" fill="#eebcbc"/><rect x="49.77" y="32.6" width="3.94" height="72.4" fill="#dc9999"/><rect x="53.66" y="32.6" width="3.94" height="72.4" fill="#c97272"/><rect x="57.54" y="32.6" width="3.94" height="72.4" fill="#b54b4b"/><rect x="61.43" y="32.6" width="3.94" height="72.4" fill="#a02a2a"/><rect x="65.31" y="32.6" width="3.94" height="72.4" fill="#8a1b1b"/>
<rect x="37.5" y="36.1" width="4.1" height="69" fill="#fff" stroke="#1d3b9e" stroke-width="1.45"/>
<path d="M10.2 104.3 L20 104.2 L23 103.4 L26 104.2 L36.7 104.3 M42 104.3 L51 104.2 L54 103.2 L58 104.1 L69 104.2" stroke="#2147b8" stroke-width="1.1" fill="none"/>
<rect x="9.6" y="32.6" width="59.9" height="72.6" fill="none" stroke="#111" stroke-width="1.1"/>
<g fill="#222"><rect x="7.9" y="43.4" width="1.3" height="0.8"/><rect x="7.9" y="57.2" width="1.3" height="0.8"/><rect x="7.9" y="71" width="1.3" height="0.8"/><rect x="7.9" y="84.8" width="1.3" height="0.8"/></g>
<text x="11.2" y="115" font-size="7.4" fill="#333" textLength="13.6" lengthAdjust="spacingAndGlyphs">Loss</text>
<text x="53" y="115" font-size="7.4" fill="#333" textLength="15.2" lengthAdjust="spacingAndGlyphs">Gain</text>
<text x="6.6" y="20.9" font-size="11.6" fill="#111" font-weight="bold">G</text>
<text x="238.3" y="15.1" font-size="9" fill="#222" textLength="58.6" lengthAdjust="spacingAndGlyphs" stroke="#222" stroke-width="0.35">Inferred CNV</text>
<g transform="rotate(0.05,105,200)"><text x="105.3" y="33.6" font-size="7.6" fill="#222" text-anchor="end">N296</text><text x="105.3" y="40.19" font-size="7.6" fill="#222" text-anchor="end">N292</text><text x="105.3" y="46.78" font-size="7.6" fill="#222" text-anchor="end">N104</text><text x="105.3" y="53.37" font-size="7.6" fill="#222" text-anchor="end">N559</text><text x="105.3" y="59.96" font-size="7.6" fill="#222" text-anchor="end">N470</text><text x="105.3" y="66.55" font-size="7.6" fill="#222" text-anchor="end">N30</text><text x="105.3" y="73.14" font-size="7.6" fill="#222" text-anchor="end">N178</text><text x="105.3" y="79.73" font-size="7.6" fill="#222" text-anchor="end">N141</text><text x="105.3" y="86.32" font-size="7.6" fill="#222" text-anchor="end">N288</text><text x="105.3" y="92.91" font-size="7.6" fill="#222" text-anchor="end">N235</text><text x="105.3" y="99.5" font-size="7.6" fill="#222" text-anchor="end">N251</text><text x="105.3" y="106.09" font-size="7.6" fill="#222" text-anchor="end">N168</text><text x="105.3" y="112.68" font-size="7.6" fill="#222" text-anchor="end">N325</text><text x="105.3" y="119.27" font-size="7.6" fill="#222" text-anchor="end">N28</text><text x="105.3" y="125.86" font-size="7.6" fill="#222" text-anchor="end">N58</text><text x="105.3" y="132.45" font-size="7.6" fill="#222" text-anchor="end">N67</text><text x="105.3" y="139.04" font-size="7.6" fill="#222" text-anchor="end">N526</text><text x="105.3" y="145.63" font-size="7.6" fill="#222" text-anchor="end">N407</text><text x="105.3" y="152.22" font-size="7.6" fill="#222" text-anchor="end">N103</text><text x="105.3" y="158.81" font-size="7.6" fill="#222" text-anchor="end">N69</text><text x="105.3" y="165.4" font-size="7.6" fill="#222" text-anchor="end">N531</text><text x="105.3" y="171.99" font-size="7.6" fill="#222" text-anchor="end">N139</text><text x="105.3" y="178.58" font-size="7.6" fill="#222" text-anchor="end">N458</text><text x="105.2" y="199.8" font-size="7.6" fill="#222" text-anchor="end">L112</text><text x="105.2" y="206.27" font-size="7.6" fill="#222" text-anchor="end">L487</text><text x="105.2" y="212.74" font-size="7.6" fill="#222" text-anchor="end">L284</text><text x="105.2" y="219.21" font-size="7.6" fill="#222" text-anchor="end">L457</text><text x="105.2" y="225.68" font-size="7.6" fill="#222" text-anchor="end">L381</text><text x="105.2" y="232.15" font-size="7.6" fill="#222" text-anchor="end">L262</text><text x="105.2" y="238.62" font-size="7.6" fill="#222" text-anchor="end">L318</text><text x="105.2" y="245.09" font-size="7.6" fill="#222" text-anchor="end">L149</text><text x="105.2" y="251.56" font-size="7.6" fill="#222" text-anchor="end">L176</text><text x="105.2" y="258.03" font-size="7.6" fill="#222" text-anchor="end">L260</text><text x="105.2" y="264.5" font-size="7.6" fill="#222" text-anchor="end">L321</text><text x="105.2" y="270.97" font-size="7.6" fill="#222" text-anchor="end">L492</text><text x="105.2" y="277.44" font-size="7.6" fill="#222" text-anchor="end">L5</text><text x="105.2" y="283.91" font-size="7.6" fill="#222" text-anchor="end">L520_2</text><text x="105.2" y="290.38" font-size="7.6" fill="#222" text-anchor="end">L107</text><text x="105.2" y="296.85" font-size="7.6" fill="#222" text-anchor="end">L445</text><text x="105.2" y="303.32" font-size="7.6" fill="#222" text-anchor="end">L25</text><text x="105.2" y="309.79" font-size="7.6" fill="#222" text-anchor="end">L42</text><text x="105.2" y="316.26" font-size="7.6" fill="#222" text-anchor="end">L40</text><text x="105.2" y="322.73" font-size="7.6" fill="#222" text-anchor="end">L314</text><text x="105.2" y="329.2" font-size="7.6" fill="#222" text-anchor="end">L268</text><text x="105.2" y="335.67" font-size="7.6" fill="#222" text-anchor="end">L235</text><text x="105.2" y="342.14" font-size="7.6" fill="#222" text-anchor="end">L520</text><text x="105.2" y="348.61" font-size="7.6" fill="#222" text-anchor="end">L529</text><text x="105.2" y="355.08" font-size="7.6" fill="#222" text-anchor="end">L431</text><text x="105.2" y="361.55" font-size="7.6" fill="#222" text-anchor="end">L355</text></g>
<text transform="translate(122.3,366.2) rotate(-90)" x="0" y="0" font-size="8.6" fill="#333" text-anchor="end" textLength="14.7" lengthAdjust="spacingAndGlyphs" stroke="#333" stroke-width="0.15">Chr1</text><text transform="translate(160.6,366.2) rotate(-90)" x="0" y="0" font-size="8.6" fill="#333" text-anchor="end" textLength="14.7" lengthAdjust="spacingAndGlyphs" stroke="#333" stroke-width="0.15">Chr2</text><text transform="translate(186.2,366.2) rotate(-90)" x="0" y="0" font-size="8.6" fill="#333" text-anchor="end" textLength="14.7" lengthAdjust="spacingAndGlyphs" stroke="#333" stroke-width="0.15">Chr3</text><text transform="translate(207.8,366.2) rotate(-90)" x="0" y="0" font-size="8.6" fill="#333" text-anchor="end" textLength="14.7" lengthAdjust="spacingAndGlyphs" stroke="#333" stroke-width="0.15">Chr4</text><text transform="translate(222.1,366.2) rotate(-90)" x="0" y="0" font-size="8.6" fill="#333" text-anchor="end" textLength="14.7" lengthAdjust="spacingAndGlyphs" stroke="#333" stroke-width="0.15">Chr5</text><text transform="translate(239,366.2) rotate(-90)" x="0" y="0" font-size="8.6" fill="#333" text-anchor="end" textLength="14.7" lengthAdjust="spacingAndGlyphs" stroke="#333" stroke-width="0.15">Chr6</text><text transform="translate(261.4,366.2) rotate(-90)" x="0" y="0" font-size="8.6" fill="#333" text-anchor="end" textLength="14.7" lengthAdjust="spacingAndGlyphs" stroke="#333" stroke-width="0.15">Chr7</text><text transform="translate(278.7,366.2) rotate(-90)" x="0" y="0" font-size="8.6" fill="#333" text-anchor="end" textLength="14.7" lengthAdjust="spacingAndGlyphs" stroke="#333" stroke-width="0.15">Chr8</text><text transform="translate(292.9,366.2) rotate(-90)" x="0" y="0" font-size="8.6" fill="#333" text-anchor="end" textLength="14.7" lengthAdjust="spacingAndGlyphs" stroke="#333" stroke-width="0.15">Chr9</text><text transform="translate(307.2,366.2) rotate(-90)" x="0" y="0" font-size="8.6" fill="#333" text-anchor="end" textLength="20" lengthAdjust="spacingAndGlyphs" stroke="#333" stroke-width="0.15">Chr10</text><text transform="translate(321.2,366.2) rotate(-90)" x="0" y="0" font-size="8.6" fill="#333" text-anchor="end" textLength="20" lengthAdjust="spacingAndGlyphs" stroke="#333" stroke-width="0.15">Chr11</text><text transform="translate(344.9,366.2) rotate(-90)" x="0" y="0" font-size="8.6" fill="#333" text-anchor="end" textLength="20" lengthAdjust="spacingAndGlyphs" stroke="#333" stroke-width="0.15">Chr12</text><text transform="translate(363.8,366.2) rotate(-90)" x="0" y="0" font-size="8.6" fill="#333" text-anchor="end" textLength="20" lengthAdjust="spacingAndGlyphs" stroke="#333" stroke-width="0.15">Chr13</text><text transform="translate(373.5,366.2) rotate(-90)" x="0" y="0" font-size="8.6" fill="#333" text-anchor="end" textLength="20" lengthAdjust="spacingAndGlyphs" stroke="#333" stroke-width="0.15">Chr14</text><text transform="translate(386.7,366.2) rotate(-90)" x="0" y="0" font-size="8.6" fill="#333" text-anchor="end" textLength="20" lengthAdjust="spacingAndGlyphs" stroke="#333" stroke-width="0.15">Chr15</text><text transform="translate(398.8,366.2) rotate(-90)" x="0" y="0" font-size="8.6" fill="#333" text-anchor="end" textLength="20" lengthAdjust="spacingAndGlyphs" stroke="#333" stroke-width="0.15">Chr16</text><text transform="translate(415.6,366.2) rotate(-90)" x="0" y="0" font-size="8.6" fill="#333" text-anchor="end" textLength="20" lengthAdjust="spacingAndGlyphs" stroke="#333" stroke-width="0.15">Chr17</text><text transform="translate(437.4,366.2) rotate(-90)" x="0" y="0" font-size="8.6" fill="#333" text-anchor="end" textLength="20" lengthAdjust="spacingAndGlyphs" stroke="#333" stroke-width="0.15">Chr18</text><text transform="translate(445.2,366.2) rotate(-90)" x="0" y="0" font-size="8.6" fill="#333" text-anchor="end" textLength="20" lengthAdjust="spacingAndGlyphs" stroke="#333" stroke-width="0.15">Chr19</text><text transform="translate(472.7,366.2) rotate(-90)" x="0" y="0" font-size="8.6" fill="#333" text-anchor="end" textLength="20" lengthAdjust="spacingAndGlyphs" stroke="#333" stroke-width="0.15">Chr20</text><text transform="translate(480.7,366.2) rotate(-90)" x="0" y="0" font-size="8.6" fill="#333" text-anchor="end" textLength="20" lengthAdjust="spacingAndGlyphs" stroke="#333" stroke-width="0.15">Chr21</text><text transform="translate(487.9,366.2) rotate(-90)" x="0" y="0" font-size="8.6" fill="#333" text-anchor="end" textLength="20" lengthAdjust="spacingAndGlyphs" stroke="#333" stroke-width="0.15">Chr22</text>
<text x="242" y="404.9" font-size="9.2" fill="#444" textLength="52.6" lengthAdjust="spacingAndGlyphs" stroke="#444" stroke-width="0.2">Genomic region</text>
<text transform="translate(507.9,132.4) rotate(-90)" x="0" y="0" font-size="9.2" fill="#2a2a2a" textLength="71" lengthAdjust="spacingAndGlyphs" stroke="#2a2a2a" stroke-width="0.22">References (MF-NLCT)</text>
<text transform="translate(507.8,318.2) rotate(-90)" x="0" y="0" font-size="9.2" fill="#2a2a2a" textLength="74" lengthAdjust="spacingAndGlyphs" stroke="#2a2a2a" stroke-width="0.22">Observations (MF-LCT)</text>
<text x="7" y="432.9" font-size="10.6" fill="#111" font-weight="bold">H</text>
<text x="20.7" y="442.6" font-size="8.9" fill="#333" textLength="168.6" lengthAdjust="spacingAndGlyphs">Enriched positional gene sets in MF-LCT</text>
<rect x="58.1" y="452.3" width="119.7" height="8" fill="#c8203a"/><rect x="54.3" y="456" width="3" height="0.9" fill="#333"/><rect x="58.1" y="462.17" width="118.8" height="8" fill="#c8203a"/><rect x="54.3" y="465.87" width="3" height="0.9" fill="#333"/><rect x="58.1" y="472.04" width="114.8" height="8" fill="#c8203a"/><rect x="54.3" y="475.74" width="3" height="0.9" fill="#333"/><rect x="58.1" y="481.91" width="113.6" height="8" fill="#c8203a"/><rect x="54.3" y="485.61" width="3" height="0.9" fill="#333"/><rect x="58.1" y="491.78" width="107.1" height="8" fill="#c8203a"/><rect x="54.3" y="495.48" width="3" height="0.9" fill="#333"/><rect x="58.1" y="501.65" width="104.1" height="8" fill="#c8203a"/><rect x="54.3" y="505.35" width="3" height="0.9" fill="#333"/><rect x="58.1" y="511.52" width="103.1" height="8" fill="#c8203a"/><rect x="54.3" y="515.22" width="3" height="0.9" fill="#333"/><rect x="58.1" y="521.39" width="102.2" height="8" fill="#c8203a"/><rect x="54.3" y="525.09" width="3" height="0.9" fill="#333"/><rect x="58.1" y="531.26" width="101.9" height="8" fill="#c8203a"/><rect x="54.3" y="534.96" width="3" height="0.9" fill="#333"/><rect x="58.1" y="541.13" width="100.9" height="8" fill="#c8203a"/><rect x="54.3" y="544.83" width="3" height="0.9" fill="#333"/><rect x="58.1" y="551" width="100.7" height="8" fill="#c8203a"/><rect x="54.3" y="554.7" width="3" height="0.9" fill="#333"/><g transform="rotate(0.05,50,500)"><text x="51.6" y="458.8" font-size="7.85" fill="#c8283e" text-anchor="end">CHR7Q36</text><text x="51.6" y="468.67" font-size="7.85" fill="#2a2a2a" text-anchor="end">CHR2P15</text><text x="51.6" y="478.54" font-size="7.85" fill="#c8283e" text-anchor="end">CHR7Q32</text><text x="51.6" y="488.41" font-size="7.85" fill="#c8283e" text-anchor="end">CHR7Q22</text><text x="51.6" y="498.28" font-size="7.85" fill="#2a2a2a" text-anchor="end">CHR13Q11</text><text x="51.6" y="508.15" font-size="7.85" fill="#c8283e" text-anchor="end">CHR7Q11</text><text x="51.6" y="518.02" font-size="7.85" fill="#2a2a2a" text-anchor="end">CHR2Q11</text><text x="51.6" y="527.89" font-size="7.85" fill="#c8283e" text-anchor="end">CHR7P13</text><text x="51.6" y="537.76" font-size="7.85" fill="#2a2a2a" text-anchor="end">CHR5Q34</text><text x="51.6" y="547.63" font-size="7.85" fill="#2a2a2a" text-anchor="end">CHR4P16</text><text x="51.6" y="557.5" font-size="7.85" fill="#c8283e" text-anchor="end">CHR7Q21</text></g>
<rect x="57.1" y="451.4" width="1.1" height="109.8" fill="#333"/>
<rect x="57.1" y="559.6" width="134.4" height="1.1" fill="#333"/>
<rect x="57.05" y="560.5" width="0.9" height="2.3" fill="#333"/><text x="57.5" y="572.2" font-size="8.2" fill="#444" text-anchor="middle">0.0</text><rect x="90.75" y="560.5" width="0.9" height="2.3" fill="#333"/><text x="91.2" y="572.2" font-size="8.2" fill="#444" text-anchor="middle">0.5</text><rect x="123.95" y="560.5" width="0.9" height="2.3" fill="#333"/><text x="124.4" y="572.2" font-size="8.2" fill="#444" text-anchor="middle">1.0</text><rect x="157.45" y="560.5" width="0.9" height="2.3" fill="#333"/><text x="157.9" y="572.2" font-size="8.2" fill="#444" text-anchor="middle">1.5</text><rect x="182.85" y="560.5" width="0.9" height="2.3" fill="#333"/><text x="183.3" y="572.2" font-size="8.2" fill="#444" text-anchor="middle">2.0</text>
<text x="80.6" y="584.5" font-size="8.6" fill="#3a3a3a" textLength="88" lengthAdjust="spacingAndGlyphs" stroke="#3a3a3a" stroke-width="0.2">Normalized enrichment score</text>
<rect x="0.5" y="0.5" width="519" height="593" fill="none" stroke="#1a1a1a" stroke-width="1.2"/>
</svg>
</body></html>
